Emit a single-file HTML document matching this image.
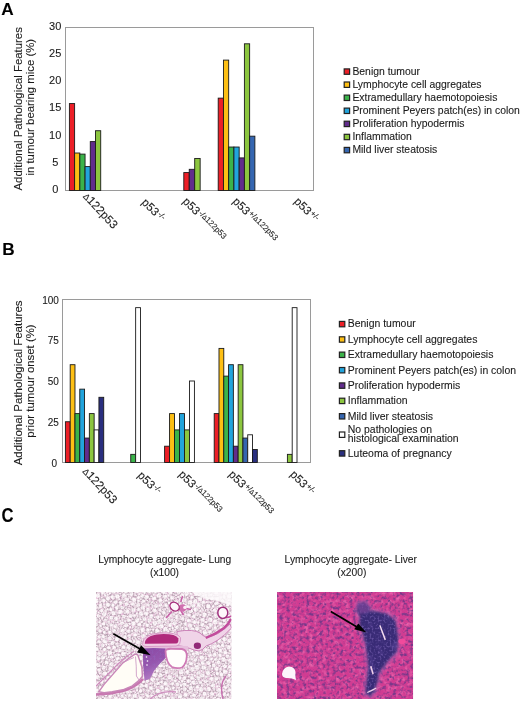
<!DOCTYPE html>
<html><head><meta charset="utf-8"><style>
html,body{margin:0;padding:0;background:#fff;width:520px;height:702px;overflow:hidden}
svg{display:block;will-change:transform}
svg text{stroke:#1a1a1a;stroke-width:0.1px}
</style></head><body>
<svg width="520" height="702" viewBox="0 0 520 702">
<defs><filter id="mesh" x="0" y="0" width="1" height="1" filterUnits="objectBoundingBox" color-interpolation-filters="sRGB">
<feTurbulence type="fractalNoise" baseFrequency="0.22" numOctaves="3" seed="21" result="n"/>
<feComponentTransfer in="n" result="m"><feFuncR type="table" tableValues="0 0 0 0.3 1 0.3 0 0 0 0.3 1 0.3 0 0 0"/></feComponentTransfer>
<feColorMatrix in="m" type="matrix" values="0 0 0 0 0.66  0 0 0 0 0.52  0 0 0 0 0.62  0.8 0 0 0 0"/>
</filter>
<filter id="mesh2" x="0" y="0" width="1" height="1" filterUnits="objectBoundingBox" color-interpolation-filters="sRGB">
<feTurbulence type="fractalNoise" baseFrequency="0.3" numOctaves="2" seed="33" result="n"/>
<feComponentTransfer in="n" result="m"><feFuncR type="table" tableValues="0 0 0.2 1 0.2 0 0 0.2 1 0.2 0 0"/></feComponentTransfer>
<feColorMatrix in="m" type="matrix" values="0 0 0 0 0.92  0 0 0 0 0.72  0 0 0 0 0.86  0.8 0 0 0 0"/>
</filter>
<filter id="lt2" x="0" y="0" width="1" height="1" filterUnits="objectBoundingBox" color-interpolation-filters="sRGB">
<feTurbulence type="fractalNoise" baseFrequency="0.35" numOctaves="2" seed="9" result="n"/>
<feColorMatrix in="n" type="matrix" values="0 0 0 0 0.9  0 0 0 0 0.7  0 0 0 0 0.84  3.0 0 0 0 -1.15"/>
<feComposite in2="SourceAlpha" operator="in"/>
</filter>
<filter id="lt" x="0" y="0" width="1" height="1" filterUnits="objectBoundingBox" color-interpolation-filters="sRGB">
<feTurbulence type="fractalNoise" baseFrequency="0.55" numOctaves="2" seed="4" result="n"/>
<feColorMatrix in="n" type="matrix" values="0 0 0 0 0.6  0 0 0 0 0.52  0 0 0 0 0.58  4.0 0 0 0 -1.75"/>
<feComposite in2="SourceAlpha" operator="in"/>
</filter>
<filter id="vt" x="0" y="0" width="1" height="1" filterUnits="objectBoundingBox" color-interpolation-filters="sRGB">
<feTurbulence type="fractalNoise" baseFrequency="0.5" numOctaves="2" seed="2" result="n"/>
<feColorMatrix in="n" type="matrix" values="0 0 0 0 0.3  0 0 0 0 0.18  0 0 0 0 0.48  3.4 0 0 0 -1.4"/>
<feComposite in2="SourceAlpha" operator="in"/>
</filter>
<filter id="pt" x="0" y="0" width="1" height="1" filterUnits="objectBoundingBox" color-interpolation-filters="sRGB">
<feTurbulence type="fractalNoise" baseFrequency="0.22" numOctaves="2" seed="5" result="n"/>
<feColorMatrix in="n" type="matrix" values="0 0 0 0 0.92  0 0 0 0 0.4  0 0 0 0 0.68  2.4 0 0 0 -1.1"/>
<feComposite in2="SourceAlpha" operator="in"/>
</filter>
<filter id="pd" x="0" y="0" width="1" height="1" filterUnits="objectBoundingBox" color-interpolation-filters="sRGB">
<feTurbulence type="fractalNoise" baseFrequency="0.3" numOctaves="2" seed="11" result="n"/>
<feColorMatrix in="n" type="matrix" values="0 0 0 0 0.48  0 0 0 0 0.22  0 0 0 0 0.54  3.4 0 0 0 -1.6"/>
<feComposite in2="SourceAlpha" operator="in"/>
</filter>
<filter id="ag" x="0" y="0" width="1" height="1" filterUnits="objectBoundingBox" color-interpolation-filters="sRGB">
<feTurbulence type="fractalNoise" baseFrequency="0.5" numOctaves="2" seed="13" result="n"/>
<feColorMatrix in="n" type="matrix" values="0 0 0 0 0.56  0 0 0 0 0.46  0 0 0 0 0.78  3.2 0 0 0 -1.5"/>
<feComposite in2="SourceAlpha" operator="in"/>
</filter>
<filter id="ag2" x="0" y="0" width="1" height="1" filterUnits="objectBoundingBox" color-interpolation-filters="sRGB">
<feTurbulence type="fractalNoise" baseFrequency="0.12" numOctaves="2" seed="17" result="n"/>
<feColorMatrix in="n" type="matrix" values="0 0 0 0 0.42  0 0 0 0 0.32  0 0 0 0 0.66  3.0 0 0 0 -1.6"/>
<feComposite in2="SourceAlpha" operator="in"/>
</filter>
<linearGradient id="aggrad" x1="0" y1="0" x2="0.3" y2="1"><stop offset="0" stop-color="#8a48a4"/><stop offset="0.55" stop-color="#9656ae"/><stop offset="1" stop-color="#b47cc4"/></linearGradient>
<clipPath id="cl"><rect x="96" y="592" width="135.5" height="107"/></clipPath>
<filter id="aggblur" x="-0.2" y="-0.2" width="1.4" height="1.4"><feMorphology in="SourceAlpha" operator="dilate" radius="2"/><feGaussianBlur stdDeviation="1.5"/><feColorMatrix type="matrix" values="0 0 0 0 0.40  0 0 0 0 0.18  0 0 0 0 0.50  0 0 0 0.6 0"/></filter>
<filter id="soft" x="-0.1" y="-0.1" width="1.2" height="1.2"><feGaussianBlur stdDeviation="0.9"/></filter>
<clipPath id="cv"><rect x="277" y="592" width="136.2" height="107"/></clipPath></defs>
<text x="1.2" y="14.8" font-size="17.2" font-weight="bold" font-family="Liberation Sans, sans-serif">A</text>
<text x="2.3" y="255.3" font-size="17.2" font-weight="bold" font-family="Liberation Sans, sans-serif">B</text>
<text transform="translate(1.4,521.9) scale(0.86,1)" font-size="19.4" font-weight="bold" font-family="Liberation Sans, sans-serif">C</text>
<rect x="65.5" y="27.5" width="248.0" height="163.0" fill="none" stroke="#9a9a9a" stroke-width="1"/>
<text x="55.2" y="188.8" font-size="11" text-anchor="middle" dominant-baseline="central" fill="#1a1a1a" font-family="Liberation Sans, sans-serif">0</text>
<text x="55.2" y="161.6" font-size="11" text-anchor="middle" dominant-baseline="central" fill="#1a1a1a" font-family="Liberation Sans, sans-serif">5</text>
<text x="55.2" y="134.5" font-size="11" text-anchor="middle" dominant-baseline="central" fill="#1a1a1a" font-family="Liberation Sans, sans-serif">10</text>
<text x="55.2" y="107.3" font-size="11" text-anchor="middle" dominant-baseline="central" fill="#1a1a1a" font-family="Liberation Sans, sans-serif">15</text>
<text x="55.2" y="80.1" font-size="11" text-anchor="middle" dominant-baseline="central" fill="#1a1a1a" font-family="Liberation Sans, sans-serif">20</text>
<text x="55.2" y="53.0" font-size="11" text-anchor="middle" dominant-baseline="central" fill="#1a1a1a" font-family="Liberation Sans, sans-serif">25</text>
<text x="55.2" y="25.8" font-size="11" text-anchor="middle" dominant-baseline="central" fill="#1a1a1a" font-family="Liberation Sans, sans-serif">30</text>
<rect x="69.40" y="103.57" width="5.22" height="86.93" fill="#ec1f27" stroke="#1a1a1a" stroke-width="0.9"/>
<rect x="74.62" y="153.01" width="5.22" height="37.49" fill="#fdbf14" stroke="#1a1a1a" stroke-width="0.9"/>
<rect x="79.84" y="154.10" width="5.22" height="36.40" fill="#3bb34a" stroke="#1a1a1a" stroke-width="0.9"/>
<rect x="85.06" y="166.59" width="5.22" height="23.91" fill="#22a4dc" stroke="#1a1a1a" stroke-width="0.9"/>
<rect x="90.28" y="141.60" width="5.22" height="48.90" fill="#612c8c" stroke="#1a1a1a" stroke-width="0.9"/>
<rect x="95.50" y="130.73" width="5.22" height="59.77" fill="#8cc63f" stroke="#1a1a1a" stroke-width="0.9"/>
<rect x="183.80" y="172.57" width="5.45" height="17.93" fill="#ec1f27" stroke="#1a1a1a" stroke-width="0.9"/>
<rect x="189.25" y="169.31" width="5.45" height="21.19" fill="#612c8c" stroke="#1a1a1a" stroke-width="0.9"/>
<rect x="194.70" y="158.44" width="5.45" height="32.06" fill="#8cc63f" stroke="#1a1a1a" stroke-width="0.9"/>
<rect x="218.20" y="98.13" width="5.24" height="92.37" fill="#ec1f27" stroke="#1a1a1a" stroke-width="0.9"/>
<rect x="223.44" y="60.10" width="5.24" height="130.40" fill="#fdbf14" stroke="#1a1a1a" stroke-width="0.9"/>
<rect x="228.68" y="147.03" width="5.24" height="43.47" fill="#3bb34a" stroke="#1a1a1a" stroke-width="0.9"/>
<rect x="233.92" y="147.03" width="5.24" height="43.47" fill="#22a4dc" stroke="#1a1a1a" stroke-width="0.9"/>
<rect x="239.16" y="157.90" width="5.24" height="32.60" fill="#612c8c" stroke="#1a1a1a" stroke-width="0.9"/>
<rect x="244.40" y="43.80" width="5.24" height="146.70" fill="#8cc63f" stroke="#1a1a1a" stroke-width="0.9"/>
<rect x="249.64" y="136.17" width="5.24" height="54.33" fill="#3566b0" stroke="#1a1a1a" stroke-width="0.9"/>
<text transform="translate(22.3,108.8) rotate(-90)" font-size="11.4" text-anchor="middle" fill="#1a1a1a" font-family="Liberation Sans, sans-serif">Additional Pathological Features</text>
<text transform="translate(33.5,107.2) rotate(-90)" font-size="11.4" text-anchor="middle" fill="#1a1a1a" font-family="Liberation Sans, sans-serif">in tumour bearing mice (%)</text>
<rect x="62.5" y="299.5" width="248.0" height="163.0" fill="none" stroke="#9a9a9a" stroke-width="1"/>
<text x="57.1" y="463.1" font-size="10" text-anchor="end" dominant-baseline="central" fill="#1a1a1a" font-family="Liberation Sans, sans-serif">0</text>
<text x="58.9" y="422.4" font-size="10" text-anchor="end" dominant-baseline="central" fill="#1a1a1a" font-family="Liberation Sans, sans-serif">25</text>
<text x="58.9" y="381.6" font-size="10" text-anchor="end" dominant-baseline="central" fill="#1a1a1a" font-family="Liberation Sans, sans-serif">50</text>
<text x="58.9" y="340.9" font-size="10" text-anchor="end" dominant-baseline="central" fill="#1a1a1a" font-family="Liberation Sans, sans-serif">75</text>
<text x="58.9" y="300.1" font-size="10" text-anchor="end" dominant-baseline="central" fill="#1a1a1a" font-family="Liberation Sans, sans-serif">100</text>
<rect x="65.40" y="421.75" width="4.79" height="40.75" fill="#ec1f27" stroke="#1a1a1a" stroke-width="0.9"/>
<rect x="70.19" y="364.70" width="4.79" height="97.80" fill="#fdbf14" stroke="#1a1a1a" stroke-width="0.9"/>
<rect x="74.98" y="413.60" width="4.79" height="48.90" fill="#3bb34a" stroke="#1a1a1a" stroke-width="0.9"/>
<rect x="79.77" y="389.15" width="4.79" height="73.35" fill="#22a4dc" stroke="#1a1a1a" stroke-width="0.9"/>
<rect x="84.56" y="438.05" width="4.79" height="24.45" fill="#612c8c" stroke="#1a1a1a" stroke-width="0.9"/>
<rect x="89.35" y="413.60" width="4.79" height="48.90" fill="#8cc63f" stroke="#1a1a1a" stroke-width="0.9"/>
<rect x="94.14" y="429.90" width="4.79" height="32.60" fill="#ffffff" stroke="#1a1a1a" stroke-width="0.9"/>
<rect x="98.93" y="397.30" width="4.79" height="65.20" fill="#2a2f7f" stroke="#1a1a1a" stroke-width="0.9"/>
<rect x="130.75" y="454.35" width="4.90" height="8.15" fill="#3bb34a" stroke="#1a1a1a" stroke-width="0.9"/>
<rect x="135.65" y="307.65" width="4.90" height="154.85" fill="#ffffff" stroke="#1a1a1a" stroke-width="0.9"/>
<rect x="164.60" y="446.20" width="4.97" height="16.30" fill="#ec1f27" stroke="#1a1a1a" stroke-width="0.9"/>
<rect x="169.57" y="413.60" width="4.97" height="48.90" fill="#fdbf14" stroke="#1a1a1a" stroke-width="0.9"/>
<rect x="174.54" y="429.90" width="4.97" height="32.60" fill="#3bb34a" stroke="#1a1a1a" stroke-width="0.9"/>
<rect x="179.51" y="413.60" width="4.97" height="48.90" fill="#22a4dc" stroke="#1a1a1a" stroke-width="0.9"/>
<rect x="184.48" y="429.90" width="4.97" height="32.60" fill="#8cc63f" stroke="#1a1a1a" stroke-width="0.9"/>
<rect x="189.45" y="381.00" width="4.97" height="81.50" fill="#ffffff" stroke="#1a1a1a" stroke-width="0.9"/>
<rect x="214.20" y="413.60" width="4.79" height="48.90" fill="#ec1f27" stroke="#1a1a1a" stroke-width="0.9"/>
<rect x="218.99" y="348.40" width="4.79" height="114.10" fill="#fdbf14" stroke="#1a1a1a" stroke-width="0.9"/>
<rect x="223.78" y="376.11" width="4.79" height="86.39" fill="#3bb34a" stroke="#1a1a1a" stroke-width="0.9"/>
<rect x="228.57" y="364.70" width="4.79" height="97.80" fill="#22a4dc" stroke="#1a1a1a" stroke-width="0.9"/>
<rect x="233.36" y="446.20" width="4.79" height="16.30" fill="#612c8c" stroke="#1a1a1a" stroke-width="0.9"/>
<rect x="238.15" y="364.70" width="4.79" height="97.80" fill="#8cc63f" stroke="#1a1a1a" stroke-width="0.9"/>
<rect x="242.94" y="438.05" width="4.79" height="24.45" fill="#3566b0" stroke="#1a1a1a" stroke-width="0.9"/>
<rect x="247.73" y="434.79" width="4.79" height="27.71" fill="#ffffff" stroke="#1a1a1a" stroke-width="0.9"/>
<rect x="252.52" y="449.46" width="4.79" height="13.04" fill="#2a2f7f" stroke="#1a1a1a" stroke-width="0.9"/>
<rect x="287.40" y="454.35" width="4.80" height="8.15" fill="#8cc63f" stroke="#1a1a1a" stroke-width="0.9"/>
<rect x="292.20" y="307.65" width="4.80" height="154.85" fill="#ffffff" stroke="#1a1a1a" stroke-width="0.9"/>
<text transform="translate(22.3,382.9) rotate(-90)" font-size="11.5" text-anchor="middle" fill="#1a1a1a" font-family="Liberation Sans, sans-serif">Additional Pathological Features</text>
<text transform="translate(33.5,381.0) rotate(-90)" font-size="11.4" text-anchor="middle" fill="#1a1a1a" font-family="Liberation Sans, sans-serif">prior tumour onset (%)</text>
<text transform="translate(82.5,196.8) rotate(47) scale(1,1)" font-size="11.6" fill="#1a1a1a" font-family="Liberation Sans, sans-serif"><tspan font-size="8.70">Δ</tspan>122p53</text>
<text transform="translate(141,203) rotate(45.5) scale(1,1)" font-size="11.4" fill="#1a1a1a" font-family="Liberation Sans, sans-serif">p53<tspan font-size="8" dx="0.8" dy="-3.3" letter-spacing="0">-/-</tspan></text>
<text transform="translate(182,202) rotate(45.5) scale(1,1)" font-size="11.4" fill="#1a1a1a" font-family="Liberation Sans, sans-serif">p53<tspan font-size="8" dx="0.8" dy="-3.3" letter-spacing="0">-/<tspan font-size="6.40">Δ</tspan>122p53</tspan></text>
<text transform="translate(232,202) rotate(45.5) scale(1,1)" font-size="11.4" fill="#1a1a1a" font-family="Liberation Sans, sans-serif">p53<tspan font-size="8" dx="0.8" dy="-3.3" letter-spacing="0">+/<tspan font-size="6.40">Δ</tspan>122p53</tspan></text>
<text transform="translate(293.5,202) rotate(45.5) scale(1,1)" font-size="11.4" fill="#1a1a1a" font-family="Liberation Sans, sans-serif">p53<tspan font-size="8" dx="0.8" dy="-3.3" letter-spacing="0">+/-</tspan></text>
<text transform="translate(82.0,471.8) rotate(47) scale(1,1)" font-size="11.6" fill="#1a1a1a" font-family="Liberation Sans, sans-serif"><tspan font-size="8.70">Δ</tspan>122p53</text>
<text transform="translate(137,476) rotate(45.5) scale(1,1)" font-size="11.4" fill="#1a1a1a" font-family="Liberation Sans, sans-serif">p53<tspan font-size="8" dx="0.8" dy="-3.3" letter-spacing="0">-/-</tspan></text>
<text transform="translate(178,475) rotate(45.5) scale(1,1)" font-size="11.4" fill="#1a1a1a" font-family="Liberation Sans, sans-serif">p53<tspan font-size="8" dx="0.8" dy="-3.3" letter-spacing="0">-/<tspan font-size="6.40">Δ</tspan>122p53</tspan></text>
<text transform="translate(228,475) rotate(45.5) scale(1,1)" font-size="11.4" fill="#1a1a1a" font-family="Liberation Sans, sans-serif">p53<tspan font-size="8" dx="0.8" dy="-3.3" letter-spacing="0">+/<tspan font-size="6.40">Δ</tspan>122p53</tspan></text>
<text transform="translate(289.5,475) rotate(45.5) scale(1,1)" font-size="11.4" fill="#1a1a1a" font-family="Liberation Sans, sans-serif">p53<tspan font-size="8" dx="0.8" dy="-3.3" letter-spacing="0">+/-</tspan></text>
<rect x="344.2" y="68.9" width="5.4" height="5.4" fill="#ec1f27" stroke="#222" stroke-width="1.2"/>
<text x="352.4" y="74.9" font-size="10.4" fill="#1a1a1a" font-family="Liberation Sans, sans-serif">Benign tumour</text>
<rect x="344.2" y="82.0" width="5.4" height="5.4" fill="#fdbf14" stroke="#222" stroke-width="1.2"/>
<text x="352.4" y="88.0" font-size="10.4" fill="#1a1a1a" font-family="Liberation Sans, sans-serif">Lymphocyte cell aggregates</text>
<rect x="344.2" y="95.1" width="5.4" height="5.4" fill="#3bb34a" stroke="#222" stroke-width="1.2"/>
<text x="352.4" y="101.1" font-size="10.4" fill="#1a1a1a" font-family="Liberation Sans, sans-serif">Extramedullary haemotopoiesis</text>
<rect x="344.2" y="108.1" width="5.4" height="5.4" fill="#22a4dc" stroke="#222" stroke-width="1.2"/>
<text x="352.4" y="114.1" font-size="10.4" fill="#1a1a1a" font-family="Liberation Sans, sans-serif">Prominent Peyers patch(es) in colon</text>
<rect x="344.2" y="121.2" width="5.4" height="5.4" fill="#612c8c" stroke="#222" stroke-width="1.2"/>
<text x="352.4" y="127.2" font-size="10.4" fill="#1a1a1a" font-family="Liberation Sans, sans-serif">Proliferation hypodermis</text>
<rect x="344.2" y="134.3" width="5.4" height="5.4" fill="#8cc63f" stroke="#222" stroke-width="1.2"/>
<text x="352.4" y="140.3" font-size="10.4" fill="#1a1a1a" font-family="Liberation Sans, sans-serif">Inflammation</text>
<rect x="344.2" y="147.4" width="5.4" height="5.4" fill="#3566b0" stroke="#222" stroke-width="1.2"/>
<text x="352.4" y="153.4" font-size="10.4" fill="#1a1a1a" font-family="Liberation Sans, sans-serif">Mild liver steatosis</text>
<rect x="339.4" y="321.4" width="5.4" height="5.4" fill="#ec1f27" stroke="#222" stroke-width="1.2"/>
<text x="347.8" y="327.4" font-size="10.45" fill="#1a1a1a" font-family="Liberation Sans, sans-serif">Benign tumour</text>
<rect x="339.4" y="336.8" width="5.4" height="5.4" fill="#fdbf14" stroke="#222" stroke-width="1.2"/>
<text x="347.8" y="342.8" font-size="10.45" fill="#1a1a1a" font-family="Liberation Sans, sans-serif">Lymphocyte cell aggregates</text>
<rect x="339.4" y="352.1" width="5.4" height="5.4" fill="#3bb34a" stroke="#222" stroke-width="1.2"/>
<text x="347.8" y="358.1" font-size="10.45" fill="#1a1a1a" font-family="Liberation Sans, sans-serif">Extramedullary haemotopoiesis</text>
<rect x="339.4" y="367.5" width="5.4" height="5.4" fill="#22a4dc" stroke="#222" stroke-width="1.2"/>
<text x="347.8" y="373.5" font-size="10.45" fill="#1a1a1a" font-family="Liberation Sans, sans-serif">Prominent Peyers patch(es) in colon</text>
<rect x="339.4" y="382.9" width="5.4" height="5.4" fill="#612c8c" stroke="#222" stroke-width="1.2"/>
<text x="347.8" y="388.9" font-size="10.45" fill="#1a1a1a" font-family="Liberation Sans, sans-serif">Proliferation hypodermis</text>
<rect x="339.4" y="398.2" width="5.4" height="5.4" fill="#8cc63f" stroke="#222" stroke-width="1.2"/>
<text x="347.8" y="404.2" font-size="10.45" fill="#1a1a1a" font-family="Liberation Sans, sans-serif">Inflammation</text>
<rect x="339.4" y="413.6" width="5.4" height="5.4" fill="#3566b0" stroke="#222" stroke-width="1.2"/>
<text x="347.8" y="419.6" font-size="10.45" fill="#1a1a1a" font-family="Liberation Sans, sans-serif">Mild liver steatosis</text>
<rect x="339.4" y="432.0" width="5.4" height="5.4" fill="#ffffff" stroke="#222" stroke-width="1.2"/>
<text x="347.8" y="433.0" font-size="10.45" fill="#1a1a1a" font-family="Liberation Sans, sans-serif">No pathologies on</text>
<text x="347.8" y="441.9" font-size="10.45" fill="#1a1a1a" font-family="Liberation Sans, sans-serif">histological examination</text>
<rect x="339.4" y="450.7" width="5.4" height="5.4" fill="#2a2f7f" stroke="#222" stroke-width="1.2"/>
<text x="347.8" y="456.5" font-size="10.45" fill="#1a1a1a" font-family="Liberation Sans, sans-serif">Luteoma of pregnancy</text>
<text x="164.8" y="563" font-size="10.25" text-anchor="middle" fill="#222" font-family="Liberation Sans, sans-serif">Lymphocyte aggregate- Lung</text>
<text x="164.5" y="575.5" font-size="10.25" text-anchor="middle" fill="#222" font-family="Liberation Sans, sans-serif">(x100)</text>
<text x="350.8" y="563.2" font-size="10.25" text-anchor="middle" fill="#222" font-family="Liberation Sans, sans-serif">Lymphocyte aggregate- Liver</text>
<text x="351.8" y="575.7" font-size="10.25" text-anchor="middle" fill="#222" font-family="Liberation Sans, sans-serif">(x200)</text>
<g clip-path="url(#cl)">
<rect x="96" y="592" width="135.5" height="107" fill="#ead6e2"/>
<rect x="96" y="592" width="135.5" height="107" fill="#fff" filter="url(#mesh2)"/>
<rect x="96" y="592" width="135.5" height="107" fill="#fff" filter="url(#lt)" opacity="0.55"/>
<g fill="#fefafc" opacity="0.94"><circle cx="181.0" cy="671.9" r="2.2"/><circle cx="225.1" cy="671.6" r="2.2"/><circle cx="99.0" cy="641.8" r="1.8"/><circle cx="184.6" cy="689.2" r="1.8"/><circle cx="146.3" cy="685.7" r="2.0"/><circle cx="170.0" cy="653.6" r="1.8"/><circle cx="195.9" cy="635.5" r="1.8"/><circle cx="221.5" cy="674.5" r="1.8"/><circle cx="200.1" cy="598.8" r="2.2"/><circle cx="180.2" cy="604.8" r="1.8"/><circle cx="229.2" cy="591.6" r="1.8"/><circle cx="227.5" cy="609.1" r="1.8"/><circle cx="134.9" cy="695.8" r="2.2"/><circle cx="215.9" cy="659.2" r="1.8"/><circle cx="224.9" cy="666.3" r="2.0"/><circle cx="136.2" cy="630.4" r="1.8"/><circle cx="224.1" cy="619.8" r="2.0"/><circle cx="136.6" cy="656.7" r="1.8"/><circle cx="177.2" cy="668.1" r="1.8"/><circle cx="137.8" cy="680.2" r="2.0"/><circle cx="191.1" cy="611.1" r="2.0"/><circle cx="192.2" cy="597.2" r="1.8"/><circle cx="226.0" cy="630.0" r="2.0"/><circle cx="97.5" cy="676.9" r="2.0"/><circle cx="101.4" cy="610.7" r="1.8"/><circle cx="111.4" cy="617.8" r="2.0"/><circle cx="142.5" cy="629.7" r="2.2"/><circle cx="129.6" cy="641.5" r="2.2"/><circle cx="198.3" cy="677.9" r="2.0"/><circle cx="100.1" cy="694.1" r="1.8"/><circle cx="123.8" cy="646.9" r="2.0"/><circle cx="221.7" cy="628.1" r="2.2"/><circle cx="170.2" cy="625.1" r="2.0"/><circle cx="115.5" cy="666.1" r="2.0"/><circle cx="117.3" cy="596.3" r="2.2"/><circle cx="168.6" cy="635.2" r="1.8"/><circle cx="197.2" cy="628.5" r="2.0"/><circle cx="157.9" cy="637.0" r="1.8"/><circle cx="230.1" cy="660.6" r="2.0"/><circle cx="141.1" cy="613.6" r="2.2"/><circle cx="172.8" cy="605.5" r="2.0"/><circle cx="109.7" cy="638.4" r="1.8"/><circle cx="103.1" cy="636.9" r="1.8"/><circle cx="157.5" cy="699.9" r="1.8"/><circle cx="229.7" cy="640.4" r="2.0"/><circle cx="190.1" cy="625.6" r="2.0"/><circle cx="135.2" cy="635.0" r="1.8"/><circle cx="110.5" cy="680.6" r="2.2"/><circle cx="214.8" cy="610.6" r="2.0"/><circle cx="132.6" cy="676.2" r="2.2"/><circle cx="144.9" cy="676.7" r="2.0"/><circle cx="190.9" cy="663.4" r="2.0"/><circle cx="145.2" cy="667.8" r="2.0"/><circle cx="210.3" cy="619.9" r="2.2"/><circle cx="193.8" cy="695.3" r="2.0"/><circle cx="184.7" cy="654.3" r="1.8"/><circle cx="160.5" cy="675.3" r="2.0"/><circle cx="187.7" cy="641.5" r="2.2"/><circle cx="184.3" cy="677.9" r="2.0"/><circle cx="157.1" cy="630.7" r="2.0"/><circle cx="166.5" cy="648.7" r="1.8"/><circle cx="122.4" cy="630.5" r="2.0"/><circle cx="134.0" cy="599.6" r="2.2"/><circle cx="195.8" cy="609.7" r="2.2"/><circle cx="166.3" cy="693.1" r="2.0"/><circle cx="132.4" cy="699.6" r="1.8"/><circle cx="117.1" cy="639.1" r="2.2"/><circle cx="119.9" cy="673.7" r="1.8"/><circle cx="182.1" cy="595.6" r="2.0"/><circle cx="110.3" cy="696.5" r="2.0"/><circle cx="143.5" cy="663.2" r="1.8"/><circle cx="176.4" cy="616.9" r="2.0"/><circle cx="95.1" cy="635.2" r="2.0"/><circle cx="213.1" cy="685.4" r="2.2"/><circle cx="209.7" cy="631.8" r="1.8"/><circle cx="152.8" cy="679.6" r="2.2"/><circle cx="169.3" cy="642.0" r="1.8"/><circle cx="177.2" cy="652.5" r="1.8"/><circle cx="208.3" cy="663.1" r="2.0"/><circle cx="109.9" cy="652.7" r="2.2"/><circle cx="146.9" cy="638.1" r="1.8"/><circle cx="163.1" cy="643.3" r="2.2"/><circle cx="147.4" cy="695.8" r="1.8"/><circle cx="163.5" cy="636.3" r="2.0"/><circle cx="225.4" cy="624.5" r="2.0"/><circle cx="180.8" cy="639.3" r="2.0"/><circle cx="100.5" cy="605.9" r="2.0"/><circle cx="96.8" cy="649.0" r="2.0"/><circle cx="128.9" cy="620.2" r="1.8"/><circle cx="194.6" cy="622.1" r="2.0"/><circle cx="195.9" cy="593.9" r="2.0"/><circle cx="113.3" cy="591.3" r="2.2"/><circle cx="157.9" cy="690.9" r="2.2"/><circle cx="170.3" cy="592.6" r="2.0"/><circle cx="184.5" cy="684.6" r="2.0"/><circle cx="160.6" cy="665.4" r="2.2"/><circle cx="122.1" cy="623.3" r="1.8"/><circle cx="136.9" cy="591.4" r="2.0"/><circle cx="175.3" cy="661.7" r="2.0"/><circle cx="220.7" cy="606.6" r="2.0"/><circle cx="190.9" cy="687.9" r="2.0"/><circle cx="207.0" cy="598.5" r="1.8"/><circle cx="186.6" cy="593.8" r="2.2"/><circle cx="154.2" cy="598.5" r="2.0"/><circle cx="125.3" cy="661.4" r="1.8"/><circle cx="193.3" cy="605.7" r="2.0"/><circle cx="192.4" cy="638.7" r="1.8"/><circle cx="104.3" cy="614.2" r="2.2"/><circle cx="109.9" cy="632.3" r="1.8"/><circle cx="133.6" cy="653.3" r="1.8"/><circle cx="197.4" cy="686.8" r="1.8"/><circle cx="96.4" cy="601.0" r="2.2"/><circle cx="177.8" cy="644.4" r="2.2"/><circle cx="146.6" cy="597.1" r="2.2"/><circle cx="170.9" cy="615.0" r="1.8"/><circle cx="166.3" cy="605.6" r="1.8"/><circle cx="214.2" cy="640.4" r="2.0"/><circle cx="119.7" cy="668.7" r="2.2"/><circle cx="142.1" cy="653.5" r="1.8"/><circle cx="107.6" cy="604.6" r="2.2"/><circle cx="161.3" cy="626.2" r="2.2"/><circle cx="99.1" cy="670.0" r="1.8"/><circle cx="212.1" cy="694.0" r="2.0"/><circle cx="189.0" cy="615.3" r="1.8"/><circle cx="106.6" cy="690.3" r="2.0"/><circle cx="208.2" cy="606.2" r="2.2"/><circle cx="141.0" cy="657.9" r="2.0"/><circle cx="204.9" cy="632.2" r="2.2"/><circle cx="100.0" cy="699.2" r="1.8"/><circle cx="100.4" cy="687.9" r="2.0"/><circle cx="186.3" cy="629.0" r="2.0"/><circle cx="104.8" cy="685.7" r="2.0"/><circle cx="116.0" cy="618.7" r="2.0"/><circle cx="207.9" cy="672.8" r="2.2"/><circle cx="158.0" cy="683.5" r="1.8"/><circle cx="111.3" cy="663.9" r="2.0"/><circle cx="157.6" cy="617.2" r="1.8"/><circle cx="126.8" cy="599.5" r="2.0"/><circle cx="138.0" cy="642.0" r="2.0"/><circle cx="123.8" cy="595.8" r="2.2"/><circle cx="143.3" cy="601.2" r="1.8"/><circle cx="127.7" cy="678.5" r="1.8"/><circle cx="224.1" cy="596.9" r="1.8"/><circle cx="183.9" cy="645.2" r="1.8"/><circle cx="101.6" cy="681.8" r="2.0"/><circle cx="127.3" cy="692.0" r="1.8"/><circle cx="177.6" cy="684.4" r="1.8"/><circle cx="162.1" cy="653.3" r="2.0"/><circle cx="218.0" cy="700.0" r="2.2"/><circle cx="111.0" cy="625.0" r="1.8"/><circle cx="202.6" cy="619.7" r="2.0"/><circle cx="138.2" cy="605.1" r="1.8"/><circle cx="103.5" cy="667.4" r="1.8"/><circle cx="192.1" cy="677.8" r="2.0"/><circle cx="217.2" cy="598.8" r="2.0"/><circle cx="218.7" cy="662.3" r="1.8"/><circle cx="174.3" cy="639.2" r="2.2"/><circle cx="185.5" cy="695.1" r="2.2"/><circle cx="139.3" cy="624.4" r="1.8"/><circle cx="131.2" cy="664.7" r="2.0"/><circle cx="228.8" cy="681.1" r="2.0"/><circle cx="117.5" cy="658.5" r="1.8"/><circle cx="195.3" cy="601.4" r="2.2"/><circle cx="99.5" cy="653.9" r="2.0"/><circle cx="192.3" cy="629.6" r="2.0"/><circle cx="136.8" cy="647.2" r="1.8"/><circle cx="209.8" cy="644.4" r="1.8"/><circle cx="190.0" cy="602.3" r="2.2"/><circle cx="176.0" cy="611.1" r="2.0"/><circle cx="98.1" cy="664.9" r="2.2"/><circle cx="170.3" cy="666.3" r="2.0"/><circle cx="171.9" cy="597.7" r="1.8"/><circle cx="201.8" cy="657.6" r="2.2"/><circle cx="152.0" cy="696.6" r="1.8"/><circle cx="132.9" cy="669.1" r="1.8"/><circle cx="166.3" cy="688.7" r="1.8"/><circle cx="149.3" cy="591.3" r="2.0"/><circle cx="219.1" cy="690.2" r="2.2"/><circle cx="137.2" cy="620.2" r="2.2"/><circle cx="105.8" cy="694.6" r="1.8"/><circle cx="151.2" cy="616.2" r="2.0"/><circle cx="120.4" cy="611.7" r="2.2"/><circle cx="114.0" cy="647.6" r="1.8"/><circle cx="179.9" cy="678.0" r="1.8"/><circle cx="105.0" cy="673.8" r="2.2"/><circle cx="232.9" cy="672.9" r="1.8"/><circle cx="174.4" cy="623.3" r="2.0"/><circle cx="154.7" cy="610.6" r="2.0"/><circle cx="121.7" cy="678.6" r="1.8"/><circle cx="160.1" cy="600.3" r="2.0"/><circle cx="165.1" cy="596.8" r="2.0"/><circle cx="201.4" cy="645.5" r="2.2"/><circle cx="153.2" cy="669.8" r="2.0"/><circle cx="124.9" cy="636.9" r="2.0"/><circle cx="114.2" cy="630.6" r="1.8"/><circle cx="227.6" cy="656.3" r="1.8"/><circle cx="220.1" cy="650.7" r="2.0"/><circle cx="228.3" cy="617.3" r="2.2"/><circle cx="201.4" cy="636.7" r="2.2"/><circle cx="193.8" cy="616.7" r="2.0"/><circle cx="102.7" cy="645.6" r="1.8"/><circle cx="224.3" cy="694.5" r="2.0"/><circle cx="143.4" cy="644.9" r="2.2"/><circle cx="103.3" cy="600.6" r="2.0"/><circle cx="217.2" cy="631.8" r="2.0"/><circle cx="181.3" cy="633.4" r="2.2"/><circle cx="203.9" cy="667.5" r="2.2"/><circle cx="192.4" cy="669.4" r="2.2"/><circle cx="107.8" cy="598.3" r="2.0"/><circle cx="188.8" cy="620.8" r="2.0"/><circle cx="136.3" cy="686.8" r="2.0"/><circle cx="184.8" cy="610.1" r="1.8"/><circle cx="156.7" cy="653.5" r="1.8"/><circle cx="131.5" cy="659.6" r="2.2"/><circle cx="215.2" cy="622.0" r="2.2"/><circle cx="148.0" cy="660.4" r="2.2"/><circle cx="103.7" cy="623.9" r="1.8"/><circle cx="218.7" cy="646.2" r="1.8"/><circle cx="184.9" cy="665.3" r="2.0"/><circle cx="147.5" cy="609.5" r="1.8"/><circle cx="182.7" cy="618.9" r="1.8"/><circle cx="113.5" cy="613.1" r="2.2"/><circle cx="232.7" cy="605.5" r="1.8"/><circle cx="191.3" cy="650.1" r="2.2"/><circle cx="111.9" cy="674.3" r="2.0"/><circle cx="186.9" cy="634.5" r="1.8"/><circle cx="137.3" cy="671.1" r="2.0"/><circle cx="102.8" cy="592.6" r="1.8"/><circle cx="231.6" cy="612.9" r="1.8"/><circle cx="149.0" cy="675.1" r="1.8"/><circle cx="113.2" cy="689.1" r="1.8"/><circle cx="213.7" cy="665.4" r="1.8"/><circle cx="208.7" cy="689.1" r="2.2"/><circle cx="216.8" cy="668.8" r="2.0"/><circle cx="149.3" cy="651.9" r="1.8"/><circle cx="104.8" cy="649.5" r="1.8"/><circle cx="106.5" cy="662.4" r="2.0"/><circle cx="137.7" cy="664.9" r="1.8"/><circle cx="228.9" cy="647.3" r="2.0"/><circle cx="209.7" cy="655.3" r="1.8"/><circle cx="107.1" cy="628.3" r="1.8"/><circle cx="154.8" cy="623.3" r="2.2"/><circle cx="172.8" cy="634.1" r="2.0"/><circle cx="205.4" cy="650.1" r="2.0"/><circle cx="133.3" cy="609.9" r="2.0"/><circle cx="117.4" cy="692.8" r="1.8"/><circle cx="232.0" cy="627.0" r="2.0"/><circle cx="175.7" cy="691.5" r="2.0"/><circle cx="202.2" cy="624.4" r="2.0"/><circle cx="95.5" cy="607.1" r="2.2"/><circle cx="125.0" cy="682.7" r="1.8"/><circle cx="178.6" cy="658.0" r="2.2"/><circle cx="119.9" cy="650.5" r="1.8"/><circle cx="151.0" cy="688.2" r="2.0"/><circle cx="224.7" cy="639.3" r="2.2"/><circle cx="169.5" cy="677.1" r="2.2"/><circle cx="205.8" cy="681.3" r="1.8"/><circle cx="165.7" cy="683.4" r="2.2"/><circle cx="133.3" cy="623.5" r="2.2"/><circle cx="203.4" cy="602.5" r="2.0"/><circle cx="154.5" cy="662.0" r="2.0"/><circle cx="95.4" cy="619.3" r="2.2"/><circle cx="95.9" cy="624.5" r="2.0"/><circle cx="115.6" cy="698.6" r="2.2"/><circle cx="153.9" cy="647.7" r="2.0"/><circle cx="108.6" cy="647.7" r="1.8"/><circle cx="98.3" cy="658.3" r="2.0"/><circle cx="130.7" cy="615.7" r="2.0"/><circle cx="179.9" cy="696.4" r="2.2"/><circle cx="123.8" cy="616.6" r="1.8"/><circle cx="161.6" cy="687.6" r="2.0"/><circle cx="104.9" cy="641.4" r="2.2"/><circle cx="222.6" cy="682.2" r="2.2"/><circle cx="128.7" cy="647.2" r="2.2"/><circle cx="166.6" cy="672.0" r="2.0"/><circle cx="142.2" cy="595.9" r="1.8"/><circle cx="147.2" cy="625.3" r="1.8"/><circle cx="143.1" cy="636.0" r="2.0"/><circle cx="210.8" cy="624.9" r="2.0"/><circle cx="118.5" cy="687.4" r="1.8"/><circle cx="125.3" cy="698.8" r="1.8"/><circle cx="227.9" cy="604.1" r="2.2"/><circle cx="128.5" cy="631.2" r="1.8"/><circle cx="219.9" cy="655.6" r="1.8"/><circle cx="229.7" cy="666.8" r="1.8"/><circle cx="229.3" cy="690.0" r="1.8"/><circle cx="233.0" cy="699.6" r="1.8"/><circle cx="122.1" cy="696.2" r="1.8"/><circle cx="163.6" cy="612.5" r="2.0"/><circle cx="155.9" cy="592.0" r="1.8"/><circle cx="202.1" cy="698.0" r="1.8"/><circle cx="232.7" cy="656.0" r="2.2"/><circle cx="204.4" cy="614.7" r="2.2"/><circle cx="222.7" cy="612.0" r="2.2"/><circle cx="222.8" cy="645.4" r="1.8"/><circle cx="154.1" cy="641.5" r="1.8"/><circle cx="216.2" cy="592.4" r="2.0"/><circle cx="141.7" cy="685.8" r="2.0"/><circle cx="225.2" cy="687.3" r="1.8"/><circle cx="198.3" cy="672.9" r="1.8"/><circle cx="127.3" cy="611.6" r="2.0"/><circle cx="116.0" cy="680.2" r="2.2"/><circle cx="178.5" cy="592.1" r="2.0"/><circle cx="219.6" cy="695.2" r="2.0"/><circle cx="217.4" cy="673.6" r="1.8"/><circle cx="144.3" cy="619.1" r="2.0"/><circle cx="180.8" cy="612.5" r="2.0"/><circle cx="204.6" cy="693.7" r="2.0"/><circle cx="160.4" cy="660.2" r="2.2"/><circle cx="211.5" cy="678.9" r="2.0"/><circle cx="122.0" cy="607.5" r="1.8"/><circle cx="210.1" cy="637.7" r="2.2"/><circle cx="131.4" cy="594.1" r="2.0"/><circle cx="168.3" cy="698.4" r="1.8"/><circle cx="99.9" cy="630.8" r="1.8"/><circle cx="196.6" cy="639.6" r="1.8"/><circle cx="126.5" cy="604.2" r="1.8"/><circle cx="215.9" cy="615.8" r="2.2"/><circle cx="115.4" cy="602.1" r="1.8"/><circle cx="98.0" cy="595.7" r="2.2"/><circle cx="156.3" cy="606.1" r="2.0"/><circle cx="163.4" cy="592.2" r="1.8"/><circle cx="121.6" cy="641.9" r="2.0"/><circle cx="176.3" cy="602.1" r="1.8"/><circle cx="123.6" cy="687.2" r="1.8"/><circle cx="160.4" cy="695.5" r="2.0"/><circle cx="216.4" cy="603.3" r="2.0"/><circle cx="216.2" cy="678.4" r="2.0"/><circle cx="130.4" cy="687.9" r="2.2"/><circle cx="129.0" cy="654.6" r="2.0"/><circle cx="120.8" cy="603.1" r="1.8"/><circle cx="165.5" cy="618.4" r="2.0"/><circle cx="197.4" cy="652.9" r="2.2"/><circle cx="115.6" cy="626.1" r="2.0"/><circle cx="214.2" cy="647.0" r="2.2"/><circle cx="173.7" cy="655.6" r="1.8"/><circle cx="205.7" cy="591.4" r="1.8"/><circle cx="187.5" cy="672.1" r="2.0"/><circle cx="123.6" cy="654.0" r="2.2"/><circle cx="110.7" cy="609.5" r="1.8"/><circle cx="177.1" cy="627.2" r="1.8"/><circle cx="167.8" cy="660.9" r="2.2"/><circle cx="223.5" cy="659.4" r="2.2"/><circle cx="111.7" cy="657.3" r="1.8"/><circle cx="181.5" cy="662.2" r="1.8"/><circle cx="140.6" cy="690.9" r="1.8"/><circle cx="201.2" cy="689.4" r="2.2"/><circle cx="227.2" cy="699.3" r="1.8"/><circle cx="196.9" cy="667.3" r="2.2"/><circle cx="165.1" cy="657.1" r="2.0"/><circle cx="116.7" cy="607.9" r="1.8"/><circle cx="125.8" cy="667.3" r="2.2"/><circle cx="158.5" cy="641.2" r="2.0"/><circle cx="149.1" cy="665.1" r="2.0"/><circle cx="219.6" cy="640.8" r="2.0"/><circle cx="232.7" cy="634.9" r="2.2"/><circle cx="95.2" cy="612.1" r="2.2"/><circle cx="214.4" cy="654.7" r="2.0"/><circle cx="218.0" cy="636.7" r="1.8"/><circle cx="202.2" cy="675.6" r="2.0"/><circle cx="223.5" cy="633.8" r="2.0"/><circle cx="126.2" cy="625.3" r="2.0"/><circle cx="110.8" cy="668.7" r="2.2"/><circle cx="146.1" cy="613.7" r="2.0"/><circle cx="110.0" cy="685.6" r="2.2"/><circle cx="144.5" cy="592.3" r="1.8"/><circle cx="211.9" cy="598.6" r="1.8"/><circle cx="103.1" cy="657.4" r="2.0"/><circle cx="148.2" cy="605.0" r="1.8"/><circle cx="132.9" cy="604.3" r="1.8"/><circle cx="153.4" cy="635.2" r="1.8"/><circle cx="160.5" cy="605.0" r="1.8"/><circle cx="158.9" cy="595.4" r="2.2"/><circle cx="112.6" cy="643.0" r="2.0"/><circle cx="132.8" cy="681.7" r="1.8"/><circle cx="172.2" cy="683.7" r="1.8"/><circle cx="159.4" cy="621.5" r="2.2"/><circle cx="183.8" cy="600.1" r="2.2"/><circle cx="173.2" cy="647.9" r="2.0"/><circle cx="194.7" cy="646.6" r="2.2"/><circle cx="149.3" cy="620.6" r="1.8"/><circle cx="220.5" cy="623.5" r="1.8"/><circle cx="193.5" cy="682.6" r="2.0"/><circle cx="194.2" cy="699.9" r="2.0"/><circle cx="185.3" cy="624.1" r="1.8"/><circle cx="188.3" cy="607.2" r="2.0"/><circle cx="143.0" cy="607.6" r="2.2"/><circle cx="225.2" cy="652.5" r="2.0"/><circle cx="165.5" cy="629.3" r="2.2"/><circle cx="97.5" cy="683.7" r="1.8"/><circle cx="129.1" cy="695.8" r="1.8"/><circle cx="195.4" cy="659.9" r="1.8"/><circle cx="118.9" cy="662.5" r="1.8"/><circle cx="172.6" cy="698.4" r="1.8"/><circle cx="96.4" cy="691.0" r="2.2"/><circle cx="232.7" cy="600.6" r="2.2"/><circle cx="229.4" cy="596.3" r="2.2"/><circle cx="112.5" cy="596.9" r="2.0"/><circle cx="140.3" cy="698.2" r="2.0"/><circle cx="202.6" cy="662.8" r="2.0"/><circle cx="187.5" cy="659.8" r="1.8"/><circle cx="154.9" cy="675.1" r="2.2"/><circle cx="105.4" cy="698.9" r="1.8"/><circle cx="222.4" cy="601.4" r="1.8"/><circle cx="200.3" cy="682.5" r="1.8"/><circle cx="125.9" cy="591.3" r="2.2"/><circle cx="188.8" cy="681.1" r="2.0"/><circle cx="198.7" cy="605.0" r="2.2"/><circle cx="232.2" cy="685.0" r="2.0"/><circle cx="124.5" cy="672.6" r="2.0"/><circle cx="154.4" cy="688.8" r="0.7"/><circle cx="153.3" cy="658.6" r="0.85"/><circle cx="139.7" cy="650.7" r="1.3"/><circle cx="131.6" cy="651.0" r="0.7"/><circle cx="117.6" cy="622.2" r="0.85"/><circle cx="160.7" cy="649.2" r="1.0"/><circle cx="194.7" cy="675.2" r="1.0"/><circle cx="212.2" cy="591.4" r="1.0"/><circle cx="205.1" cy="685.3" r="0.85"/><circle cx="157.2" cy="670.9" r="1.45"/><circle cx="133.0" cy="648.5" r="0.7"/><circle cx="209.0" cy="611.9" r="1.0"/><circle cx="169.4" cy="611.2" r="0.85"/><circle cx="146.4" cy="654.8" r="1.45"/><circle cx="134.5" cy="615.9" r="1.3"/><circle cx="188.4" cy="676.3" r="0.85"/><circle cx="143.9" cy="696.6" r="0.7"/><circle cx="173.4" cy="687.9" r="1.45"/><circle cx="148.7" cy="632.8" r="0.85"/><circle cx="120.2" cy="593.2" r="0.7"/><circle cx="115.8" cy="661.5" r="0.85"/><circle cx="150.2" cy="640.6" r="1.45"/><circle cx="105.7" cy="681.2" r="1.3"/><circle cx="171.1" cy="691.8" r="0.85"/><circle cx="152.1" cy="654.9" r="0.7"/><circle cx="156.8" cy="602.4" r="0.7"/><circle cx="138.5" cy="609.4" r="1.6"/><circle cx="176.8" cy="675.6" r="1.45"/><circle cx="148.6" cy="690.7" r="1.0"/><circle cx="210.9" cy="615.0" r="0.85"/><circle cx="120.7" cy="682.7" r="0.85"/><circle cx="102.1" cy="618.0" r="1.0"/><circle cx="182.5" cy="627.5" r="0.85"/><circle cx="212.0" cy="668.9" r="1.15"/><circle cx="108.3" cy="657.1" r="0.85"/><circle cx="149.0" cy="643.7" r="1.0"/><circle cx="117.6" cy="630.5" r="0.7"/><circle cx="232.8" cy="622.2" r="0.7"/><circle cx="139.5" cy="676.0" r="1.45"/><circle cx="230.9" cy="695.5" r="0.85"/><circle cx="211.4" cy="659.1" r="1.6"/><circle cx="143.9" cy="689.8" r="0.85"/><circle cx="135.6" cy="692.2" r="0.7"/><circle cx="150.4" cy="683.1" r="0.85"/><circle cx="176.0" cy="671.2" r="0.7"/><circle cx="184.9" cy="674.7" r="0.7"/><circle cx="201.8" cy="685.5" r="1.0"/><circle cx="129.1" cy="671.4" r="1.6"/><circle cx="205.7" cy="594.9" r="0.85"/><circle cx="177.2" cy="634.0" r="1.3"/><circle cx="222.6" cy="678.2" r="1.15"/><circle cx="161.4" cy="682.0" r="1.3"/><circle cx="152.3" cy="602.1" r="1.15"/><circle cx="97.4" cy="695.8" r="0.7"/><circle cx="175.1" cy="629.7" r="0.85"/><circle cx="178.3" cy="596.9" r="0.85"/><circle cx="169.0" cy="603.1" r="1.3"/><circle cx="142.3" cy="678.8" r="0.7"/><circle cx="203.6" cy="672.4" r="0.7"/><circle cx="106.1" cy="656.2" r="0.7"/><circle cx="221.8" cy="593.0" r="1.15"/><circle cx="135.6" cy="661.6" r="1.15"/><circle cx="143.1" cy="625.5" r="0.85"/><circle cx="106.4" cy="669.4" r="0.7"/><circle cx="189.2" cy="632.5" r="0.7"/><circle cx="117.5" cy="645.9" r="1.3"/><circle cx="205.4" cy="636.8" r="1.0"/><circle cx="108.5" cy="644.7" r="0.7"/><circle cx="227.5" cy="635.5" r="1.15"/><circle cx="211.0" cy="699.4" r="0.7"/><circle cx="200.2" cy="614.9" r="1.0"/><circle cx="117.1" cy="671.4" r="0.85"/><circle cx="171.8" cy="620.2" r="1.45"/><circle cx="155.1" cy="614.9" r="0.7"/><circle cx="189.5" cy="698.9" r="0.7"/><circle cx="101.3" cy="676.2" r="0.7"/><circle cx="143.3" cy="681.9" r="1.45"/><circle cx="125.5" cy="640.8" r="1.0"/><circle cx="152.0" cy="626.8" r="1.0"/><circle cx="228.2" cy="694.8" r="1.3"/><circle cx="200.7" cy="650.9" r="0.85"/><circle cx="175.8" cy="664.9" r="0.7"/><circle cx="191.3" cy="656.6" r="1.0"/><circle cx="221.2" cy="617.0" r="1.3"/><circle cx="221.6" cy="666.4" r="0.7"/><circle cx="157.1" cy="679.4" r="1.3"/><circle cx="213.2" cy="661.7" r="0.85"/><circle cx="128.6" cy="596.3" r="0.7"/><circle cx="149.8" cy="635.5" r="1.15"/><circle cx="186.2" cy="637.8" r="0.7"/><circle cx="172.8" cy="671.8" r="0.85"/><circle cx="200.8" cy="591.9" r="0.85"/><circle cx="153.2" cy="691.4" r="1.0"/><circle cx="128.3" cy="663.3" r="0.7"/><circle cx="187.6" cy="597.6" r="0.7"/><circle cx="138.8" cy="661.4" r="1.15"/><circle cx="213.7" cy="635.8" r="1.0"/><circle cx="212.4" cy="629.6" r="1.0"/><circle cx="197.0" cy="657.1" r="0.85"/><circle cx="195.0" cy="690.0" r="1.0"/><circle cx="231.0" cy="644.1" r="1.15"/><circle cx="163.2" cy="622.1" r="1.0"/><circle cx="166.0" cy="600.5" r="1.0"/><circle cx="187.5" cy="652.0" r="1.0"/><circle cx="133.6" cy="644.4" r="0.7"/><circle cx="95.5" cy="656.1" r="0.85"/><circle cx="179.0" cy="622.3" r="0.7"/><circle cx="118.7" cy="635.5" r="1.0"/><circle cx="205.6" cy="653.5" r="0.7"/><circle cx="113.7" cy="622.0" r="0.85"/><circle cx="223.2" cy="690.4" r="1.15"/><circle cx="199.0" cy="698.2" r="0.7"/><circle cx="171.4" cy="669.7" r="0.85"/><circle cx="115.0" cy="670.6" r="0.7"/><circle cx="125.6" cy="633.2" r="0.85"/><circle cx="215.2" cy="697.5" r="1.0"/><circle cx="112.0" cy="693.0" r="1.15"/><circle cx="97.9" cy="628.2" r="0.85"/><circle cx="95.7" cy="668.1" r="1.3"/><circle cx="106.6" cy="638.1" r="0.7"/><circle cx="232.1" cy="692.8" r="1.45"/><circle cx="172.0" cy="602.2" r="0.85"/><circle cx="120.7" cy="627.2" r="1.0"/><circle cx="157.5" cy="626.4" r="1.0"/><circle cx="188.4" cy="666.9" r="1.0"/><circle cx="158.1" cy="656.6" r="0.85"/><circle cx="181.7" cy="692.0" r="0.7"/><circle cx="138.7" cy="634.1" r="0.7"/><circle cx="175.3" cy="678.4" r="0.85"/><circle cx="160.7" cy="671.0" r="0.85"/><circle cx="130.0" cy="627.2" r="1.15"/><circle cx="96.4" cy="645.5" r="0.85"/><circle cx="232.7" cy="649.6" r="0.7"/><circle cx="132.9" cy="685.2" r="0.85"/><circle cx="207.6" cy="684.5" r="1.15"/><circle cx="191.6" cy="643.2" r="0.7"/><circle cx="210.9" cy="602.8" r="1.0"/><circle cx="200.5" cy="611.1" r="1.15"/><circle cx="178.8" cy="620.2" r="0.7"/><circle cx="145.7" cy="641.0" r="0.7"/><circle cx="151.0" cy="624.4" r="0.7"/><circle cx="162.7" cy="691.1" r="1.15"/><circle cx="164.1" cy="696.4" r="1.15"/><circle cx="161.6" cy="699.3" r="0.85"/><circle cx="189.8" cy="692.8" r="1.15"/><circle cx="230.9" cy="631.1" r="1.3"/><circle cx="98.4" cy="615.8" r="1.6"/><circle cx="111.1" cy="601.1" r="0.85"/><circle cx="206.1" cy="646.0" r="1.15"/><circle cx="115.9" cy="676.6" r="0.7"/><circle cx="114.4" cy="634.5" r="1.3"/><circle cx="187.9" cy="691.0" r="1.0"/><circle cx="220.7" cy="668.6" r="1.15"/><circle cx="106.3" cy="644.8" r="1.0"/><circle cx="105.2" cy="620.0" r="1.6"/><circle cx="146.8" cy="648.6" r="0.7"/><circle cx="143.4" cy="672.1" r="1.15"/><circle cx="95.5" cy="699.7" r="1.0"/><circle cx="225.9" cy="676.4" r="0.85"/><circle cx="114.3" cy="652.6" r="0.85"/><circle cx="161.7" cy="631.3" r="0.7"/><circle cx="152.1" cy="604.8" r="0.85"/><circle cx="95.3" cy="593.4" r="0.7"/><circle cx="206.1" cy="622.1" r="1.3"/><circle cx="132.9" cy="627.6" r="1.0"/><circle cx="206.1" cy="676.8" r="1.3"/><circle cx="157.2" cy="612.9" r="0.7"/><circle cx="166.7" cy="665.7" r="1.15"/><circle cx="203.1" cy="593.4" r="0.7"/><circle cx="206.4" cy="658.7" r="1.15"/><circle cx="107.9" cy="615.5" r="0.7"/><circle cx="129.4" cy="683.8" r="1.3"/><circle cx="124.9" cy="621.0" r="1.0"/><circle cx="102.4" cy="664.2" r="0.7"/><circle cx="156.0" cy="644.3" r="1.15"/><circle cx="106.4" cy="666.1" r="0.7"/><circle cx="202.4" cy="605.7" r="0.85"/><circle cx="168.7" cy="596.0" r="1.15"/><circle cx="170.0" cy="681.1" r="0.85"/><circle cx="206.3" cy="639.2" r="0.7"/><circle cx="138.0" cy="693.1" r="0.85"/><circle cx="232.6" cy="689.3" r="1.0"/><circle cx="147.4" cy="681.3" r="1.6"/><circle cx="118.4" cy="654.7" r="1.45"/><circle cx="132.3" cy="638.2" r="0.7"/><circle cx="99.7" cy="673.4" r="1.0"/><circle cx="200.5" cy="630.6" r="0.85"/><circle cx="121.7" cy="699.9" r="0.7"/><circle cx="182.4" cy="651.9" r="0.85"/><circle cx="154.6" cy="685.3" r="0.7"/><circle cx="153.3" cy="629.5" r="1.0"/><circle cx="217.0" cy="693.1" r="0.7"/><circle cx="198.3" cy="618.5" r="0.85"/><circle cx="171.5" cy="610.1" r="0.85"/><circle cx="119.6" cy="698.6" r="1.15"/><circle cx="108.1" cy="613.1" r="0.7"/><circle cx="99.3" cy="622.5" r="1.15"/><circle cx="136.7" cy="613.5" r="1.0"/><circle cx="112.1" cy="699.9" r="1.0"/><circle cx="232.6" cy="676.5" r="0.7"/><circle cx="105.2" cy="595.4" r="1.3"/><circle cx="137.1" cy="690.3" r="1.0"/><circle cx="116.8" cy="643.3" r="0.85"/><circle cx="101.9" cy="651.1" r="0.7"/><circle cx="158.5" cy="644.7" r="0.85"/><circle cx="198.2" cy="613.8" r="0.7"/><circle cx="184.5" cy="658.3" r="0.7"/><circle cx="215.3" cy="627.8" r="1.6"/><circle cx="186.2" cy="668.6" r="1.0"/><circle cx="139.3" cy="594.0" r="1.0"/><circle cx="213.3" cy="698.7" r="0.7"/><circle cx="108.8" cy="622.0" r="1.3"/><circle cx="229.0" cy="675.3" r="1.45"/><circle cx="180.3" cy="665.3" r="1.0"/><circle cx="165.9" cy="676.0" r="0.7"/><circle cx="213.9" cy="595.6" r="0.7"/><circle cx="156.4" cy="665.8" r="1.15"/><circle cx="165.3" cy="639.8" r="1.3"/><circle cx="100.8" cy="626.0" r="1.15"/><circle cx="107.5" cy="609.4" r="0.85"/><circle cx="194.5" cy="642.2" r="0.85"/><circle cx="121.6" cy="638.3" r="0.7"/><circle cx="109.6" cy="641.6" r="0.7"/><circle cx="171.1" cy="630.6" r="0.7"/><circle cx="183.1" cy="592.3" r="0.85"/><circle cx="175.2" cy="681.3" r="1.45"/><circle cx="160.0" cy="610.0" r="1.45"/><circle cx="151.2" cy="657.4" r="1.0"/><circle cx="142.4" cy="640.2" r="0.7"/><circle cx="138.4" cy="597.5" r="1.6"/><circle cx="224.2" cy="604.3" r="0.85"/><circle cx="107.6" cy="677.2" r="1.3"/><circle cx="112.8" cy="660.1" r="0.7"/><circle cx="225.5" cy="593.2" r="1.45"/><circle cx="165.0" cy="699.1" r="0.85"/><circle cx="157.4" cy="650.0" r="1.15"/><circle cx="161.5" cy="616.6" r="1.3"/><circle cx="109.3" cy="659.7" r="0.7"/><circle cx="128.3" cy="608.2" r="0.7"/><circle cx="179.3" cy="690.7" r="1.0"/><circle cx="168.4" cy="685.9" r="0.85"/><circle cx="197.5" cy="692.5" r="0.7"/><circle cx="208.8" cy="595.0" r="0.85"/><circle cx="119.0" cy="624.2" r="0.7"/><circle cx="129.8" cy="591.1" r="0.85"/><circle cx="205.2" cy="656.4" r="0.7"/><circle cx="140.8" cy="667.3" r="1.0"/><circle cx="190.7" cy="593.8" r="1.3"/><circle cx="104.4" cy="632.4" r="1.45"/><circle cx="95.2" cy="628.7" r="1.15"/><circle cx="181.9" cy="648.0" r="0.85"/><circle cx="190.2" cy="646.7" r="0.7"/><circle cx="187.6" cy="646.9" r="0.85"/><circle cx="165.7" cy="622.1" r="1.0"/><circle cx="146.7" cy="634.1" r="1.0"/><circle cx="128.7" cy="675.2" r="1.15"/><circle cx="203.0" cy="595.8" r="1.0"/><circle cx="114.9" cy="684.0" r="0.7"/><circle cx="182.5" cy="698.7" r="0.7"/><circle cx="121.3" cy="657.9" r="0.85"/><circle cx="212.5" cy="671.5" r="0.7"/><circle cx="122.3" cy="599.3" r="0.7"/><circle cx="215.3" cy="651.4" r="0.7"/><circle cx="125.3" cy="628.7" r="0.7"/><circle cx="135.9" cy="638.9" r="0.85"/><circle cx="192.0" cy="674.4" r="0.85"/><circle cx="121.3" cy="690.7" r="0.85"/><circle cx="214.3" cy="689.2" r="1.15"/><circle cx="193.2" cy="654.3" r="1.45"/><circle cx="195.9" cy="613.8" r="1.0"/><circle cx="232.8" cy="609.3" r="1.3"/><circle cx="129.6" cy="606.3" r="0.85"/><circle cx="229.9" cy="650.9" r="1.15"/><circle cx="177.0" cy="699.9" r="1.3"/><circle cx="198.0" cy="625.2" r="0.7"/><circle cx="166.5" cy="645.2" r="0.7"/><circle cx="228.3" cy="685.3" r="1.3"/><circle cx="140.7" cy="673.1" r="0.85"/><circle cx="147.4" cy="646.0" r="1.0"/><circle cx="198.1" cy="632.1" r="0.85"/><circle cx="96.1" cy="672.8" r="1.0"/><circle cx="129.4" cy="636.3" r="1.6"/><circle cx="147.9" cy="629.8" r="1.6"/><circle cx="140.6" cy="648.0" r="0.85"/><circle cx="208.0" cy="666.9" r="0.85"/><circle cx="226.2" cy="600.1" r="0.7"/><circle cx="222.2" cy="698.6" r="1.45"/><circle cx="105.2" cy="653.7" r="1.15"/><circle cx="144.5" cy="650.9" r="0.85"/><circle cx="103.3" cy="662.3" r="0.7"/><circle cx="206.7" cy="698.3" r="1.0"/><circle cx="120.6" cy="645.3" r="1.0"/><circle cx="145.2" cy="693.7" r="0.7"/><circle cx="199.3" cy="664.1" r="1.0"/><circle cx="180.7" cy="629.1" r="0.7"/><circle cx="95.1" cy="694.7" r="0.85"/><circle cx="155.2" cy="627.3" r="0.7"/><circle cx="100.9" cy="634.3" r="0.85"/><circle cx="222.2" cy="687.4" r="0.7"/><circle cx="151.4" cy="632.3" r="0.85"/><circle cx="169.4" cy="645.2" r="0.85"/><circle cx="122.1" cy="664.7" r="1.0"/><circle cx="181.0" cy="685.5" r="1.15"/><circle cx="186.3" cy="618.1" r="0.85"/><circle cx="132.8" cy="619.2" r="0.7"/><circle cx="97.4" cy="632.5" r="0.7"/><circle cx="154.4" cy="655.6" r="0.7"/><circle cx="204.4" cy="607.8" r="0.85"/><circle cx="214.7" cy="672.2" r="0.7"/><circle cx="207.4" cy="627.6" r="1.6"/><circle cx="165.3" cy="609.1" r="0.7"/><circle cx="207.9" cy="647.5" r="0.7"/><circle cx="209.2" cy="650.1" r="1.15"/><circle cx="203.3" cy="628.6" r="0.85"/><circle cx="162.6" cy="609.3" r="0.7"/><circle cx="153.5" cy="653.0" r="0.85"/><circle cx="184.8" cy="639.5" r="0.7"/><circle cx="139.2" cy="636.4" r="0.7"/><circle cx="190.9" cy="635.4" r="1.15"/><circle cx="171.3" cy="661.9" r="0.85"/><circle cx="218.8" cy="618.9" r="0.85"/><circle cx="130.5" cy="598.1" r="1.0"/><circle cx="163.2" cy="678.1" r="0.85"/><circle cx="172.1" cy="694.2" r="1.0"/><circle cx="204.4" cy="642.1" r="1.0"/><circle cx="119.6" cy="618.1" r="0.85"/><circle cx="181.3" cy="655.3" r="1.15"/><circle cx="95.6" cy="641.5" r="0.7"/><circle cx="142.0" cy="622.2" r="1.15"/><circle cx="199.9" cy="693.4" r="1.0"/><circle cx="95.7" cy="697.0" r="0.85"/><circle cx="109.8" cy="593.3" r="1.0"/><circle cx="215.4" cy="662.8" r="0.7"/><circle cx="217.2" cy="595.5" r="0.7"/><circle cx="174.6" cy="642.7" r="0.85"/><circle cx="209.5" cy="592.1" r="1.15"/><circle cx="179.8" cy="599.0" r="1.15"/><circle cx="177.0" cy="648.7" r="1.0"/><circle cx="219.2" cy="594.7" r="0.7"/><circle cx="146.1" cy="699.4" r="1.3"/><circle cx="101.6" cy="691.3" r="0.85"/><circle cx="230.2" cy="670.2" r="0.85"/><circle cx="187.8" cy="687.4" r="0.7"/><circle cx="104.4" cy="607.4" r="0.85"/><circle cx="127.3" cy="651.3" r="1.0"/><circle cx="184.1" cy="669.8" r="0.85"/><circle cx="190.6" cy="695.8" r="0.7"/><circle cx="181.5" cy="667.9" r="1.15"/><circle cx="155.6" cy="658.4" r="0.7"/><circle cx="182.2" cy="681.4" r="1.3"/><circle cx="170.5" cy="688.8" r="1.0"/><circle cx="130.9" cy="692.0" r="1.0"/><circle cx="160.0" cy="633.9" r="0.85"/><circle cx="225.8" cy="691.1" r="1.0"/><circle cx="95.4" cy="652.6" r="1.0"/><circle cx="101.4" cy="597.6" r="0.85"/><circle cx="204.9" cy="688.9" r="1.0"/><circle cx="181.2" cy="608.5" r="0.7"/><circle cx="224.3" cy="607.9" r="0.7"/><circle cx="138.4" cy="601.2" r="1.3"/><circle cx="146.3" cy="690.2" r="0.7"/><circle cx="176.0" cy="595.5" r="0.7"/><circle cx="185.7" cy="614.0" r="1.0"/><circle cx="177.8" cy="608.2" r="0.7"/><circle cx="179.3" cy="687.7" r="0.85"/><circle cx="137.2" cy="650.3" r="0.7"/><circle cx="169.7" cy="607.5" r="0.7"/><circle cx="185.7" cy="648.6" r="0.7"/><circle cx="222.5" cy="642.3" r="0.7"/><circle cx="225.4" cy="642.8" r="0.85"/><circle cx="212.8" cy="651.1" r="0.85"/><circle cx="119.4" cy="599.2" r="0.85"/><circle cx="197.1" cy="696.5" r="0.85"/><circle cx="217.2" cy="686.4" r="1.0"/><circle cx="153.6" cy="619.5" r="0.85"/><circle cx="211.9" cy="675.2" r="1.0"/><circle cx="179.1" cy="681.4" r="0.85"/><circle cx="169.6" cy="628.9" r="1.0"/><circle cx="99.1" cy="591.5" r="0.7"/><circle cx="99.1" cy="679.8" r="0.7"/><circle cx="173.4" cy="591.2" r="0.85"/><circle cx="116.2" cy="689.6" r="0.7"/><circle cx="198.1" cy="646.9" r="0.7"/><circle cx="225.1" cy="648.7" r="1.0"/><circle cx="147.1" cy="617.4" r="0.7"/><circle cx="177.2" cy="631.4" r="0.7"/><circle cx="123.9" cy="690.5" r="0.85"/><circle cx="202.0" cy="641.1" r="0.85"/><circle cx="140.2" cy="669.7" r="0.7"/><circle cx="151.5" cy="596.3" r="1.0"/><circle cx="150.4" cy="612.2" r="0.85"/><circle cx="162.3" cy="646.8" r="0.7"/><circle cx="224.1" cy="615.9" r="0.85"/><circle cx="213.2" cy="606.3" r="1.3"/><circle cx="198.3" cy="622.5" r="1.15"/><circle cx="208.8" cy="614.7" r="0.7"/><circle cx="226.1" cy="679.0" r="0.85"/><circle cx="135.8" cy="699.9" r="0.7"/><circle cx="125.5" cy="695.2" r="0.85"/><circle cx="126.9" cy="657.8" r="0.85"/><circle cx="232.9" cy="646.3" r="1.15"/><circle cx="156.9" cy="694.6" r="0.7"/><circle cx="118.5" cy="632.8" r="0.85"/><circle cx="230.6" cy="621.2" r="1.0"/><circle cx="169.7" cy="657.8" r="0.85"/><circle cx="173.8" cy="666.9" r="0.85"/><circle cx="201.8" cy="608.1" r="0.85"/><circle cx="191.8" cy="659.6" r="1.15"/><circle cx="210.1" cy="682.9" r="0.7"/><circle cx="211.5" cy="594.7" r="1.15"/><circle cx="136.0" cy="595.4" r="0.85"/><circle cx="229.1" cy="633.4" r="0.7"/><circle cx="142.3" cy="649.8" r="0.7"/><circle cx="168.9" cy="599.5" r="1.0"/><circle cx="180.4" cy="616.6" r="0.85"/><circle cx="112.8" cy="605.2" r="1.6"/><circle cx="129.7" cy="601.9" r="1.15"/><circle cx="134.7" cy="665.9" r="0.85"/><circle cx="173.2" cy="652.1" r="0.7"/><circle cx="146.7" cy="643.1" r="0.7"/><circle cx="183.4" cy="603.9" r="0.85"/><circle cx="218.5" cy="681.7" r="1.0"/><circle cx="232.6" cy="669.6" r="0.85"/><circle cx="144.7" cy="658.6" r="0.85"/><circle cx="219.6" cy="613.8" r="0.7"/><circle cx="106.9" cy="592.2" r="1.0"/><circle cx="136.0" cy="626.7" r="0.7"/><circle cx="151.4" cy="608.5" r="0.7"/><circle cx="166.1" cy="679.3" r="1.15"/><circle cx="174.8" cy="673.6" r="0.85"/><circle cx="110.5" cy="635.4" r="0.7"/><circle cx="203.1" cy="609.9" r="0.85"/><circle cx="106.8" cy="658.7" r="0.85"/><circle cx="156.5" cy="686.6" r="0.85"/><circle cx="208.1" cy="693.9" r="0.85"/><circle cx="153.6" cy="594.4" r="0.85"/><circle cx="100.5" cy="649.1" r="0.85"/><circle cx="104.1" cy="604.5" r="0.7"/><circle cx="215.8" cy="643.7" r="0.7"/><circle cx="188.3" cy="656.5" r="0.85"/><circle cx="136.4" cy="675.6" r="1.0"/><circle cx="179.9" cy="649.6" r="0.85"/><circle cx="232.7" cy="665.0" r="0.7"/><circle cx="198.7" cy="660.0" r="0.7"/><circle cx="208.0" cy="609.8" r="0.7"/><circle cx="183.8" cy="637.0" r="1.0"/><circle cx="127.5" cy="616.4" r="0.7"/><circle cx="206.3" cy="619.2" r="0.7"/><circle cx="121.7" cy="635.7" r="0.7"/><circle cx="108.5" cy="635.2" r="0.7"/><circle cx="149.2" cy="670.1" r="1.15"/><circle cx="185.7" cy="604.7" r="1.0"/><circle cx="131.9" cy="630.8" r="1.15"/><circle cx="100.5" cy="620.2" r="0.7"/><circle cx="153.4" cy="665.2" r="0.7"/><circle cx="176.2" cy="597.5" r="0.7"/><circle cx="180.3" cy="625.3" r="1.15"/><circle cx="173.2" cy="618.0" r="0.7"/><circle cx="105.8" cy="610.8" r="0.85"/><circle cx="159.9" cy="613.9" r="1.0"/><circle cx="104.4" cy="678.1" r="0.7"/><circle cx="194.7" cy="625.8" r="0.85"/><circle cx="104.1" cy="627.0" r="0.85"/><circle cx="148.5" cy="656.9" r="0.7"/><circle cx="124.8" cy="676.2" r="0.7"/><circle cx="151.0" cy="692.9" r="0.7"/><circle cx="213.9" cy="632.0" r="0.7"/><circle cx="177.0" cy="605.5" r="1.0"/><circle cx="154.1" cy="699.0" r="0.7"/><circle cx="117.8" cy="683.6" r="0.85"/><circle cx="170.0" cy="649.7" r="1.15"/><circle cx="159.4" cy="591.2" r="0.7"/><circle cx="197.1" cy="683.4" r="0.7"/><circle cx="212.5" cy="633.4" r="0.7"/><circle cx="182.4" cy="675.3" r="0.7"/><circle cx="192.9" cy="591.8" r="0.7"/><circle cx="232.7" cy="617.5" r="1.6"/><circle cx="146.0" cy="671.1" r="0.7"/><circle cx="133.9" cy="691.2" r="0.7"/><circle cx="117.5" cy="604.9" r="0.7"/><circle cx="175.0" cy="696.2" r="0.85"/><circle cx="147.6" cy="600.6" r="0.7"/><circle cx="177.1" cy="687.9" r="0.7"/><circle cx="228.0" cy="613.2" r="1.15"/><circle cx="110.0" cy="690.6" r="0.7"/><circle cx="207.9" cy="652.8" r="0.7"/><circle cx="133.4" cy="646.5" r="0.85"/><circle cx="95.2" cy="679.6" r="0.7"/><circle cx="183.1" cy="607.0" r="1.15"/><circle cx="155.9" cy="697.0" r="1.0"/><circle cx="98.6" cy="609.0" r="0.7"/><circle cx="212.4" cy="613.3" r="0.7"/><circle cx="186.3" cy="700.0" r="0.85"/><circle cx="217.4" cy="606.5" r="0.7"/><circle cx="212.3" cy="616.7" r="0.7"/><circle cx="205.4" cy="610.1" r="0.85"/><circle cx="96.7" cy="638.6" r="0.85"/><circle cx="131.9" cy="633.7" r="0.85"/><circle cx="163.3" cy="669.4" r="0.7"/><circle cx="149.4" cy="678.3" r="0.7"/><circle cx="101.9" cy="671.8" r="0.7"/><circle cx="174.1" cy="594.2" r="0.7"/><circle cx="95.3" cy="686.9" r="0.85"/><circle cx="232.8" cy="679.5" r="0.85"/><circle cx="167.2" cy="615.3" r="1.0"/><circle cx="210.5" cy="652.2" r="0.7"/><circle cx="116.4" cy="650.9" r="1.15"/><circle cx="210.9" cy="610.0" r="0.7"/><circle cx="173.6" cy="669.5" r="0.7"/><circle cx="172.5" cy="628.0" r="1.15"/><circle cx="192.3" cy="619.7" r="0.7"/><circle cx="226.2" cy="645.2" r="0.7"/><circle cx="229.5" cy="624.8" r="0.7"/><circle cx="103.5" cy="629.8" r="0.7"/><circle cx="164.1" cy="666.9" r="1.0"/><circle cx="187.9" cy="685.3" r="0.85"/><circle cx="118.7" cy="615.5" r="1.0"/><circle cx="229.7" cy="697.5" r="0.7"/><circle cx="219.1" cy="684.1" r="0.85"/><circle cx="219.1" cy="610.4" r="0.85"/><circle cx="138.6" cy="638.4" r="0.7"/><circle cx="220.6" cy="632.2" r="0.7"/><circle cx="98.6" cy="612.4" r="0.7"/><circle cx="219.3" cy="659.0" r="1.0"/><circle cx="232.8" cy="593.1" r="1.0"/><circle cx="219.3" cy="665.6" r="0.7"/><circle cx="228.0" cy="643.8" r="0.7"/><circle cx="173.1" cy="675.0" r="0.7"/><circle cx="199.6" cy="608.6" r="0.7"/><circle cx="222.8" cy="663.8" r="0.7"/><circle cx="154.1" cy="638.4" r="0.7"/><circle cx="99.5" cy="645.2" r="0.7"/><circle cx="140.8" cy="591.5" r="0.7"/><circle cx="171.9" cy="658.2" r="0.7"/><circle cx="134.1" cy="641.5" r="1.3"/><circle cx="95.0" cy="643.6" r="0.7"/><circle cx="226.2" cy="683.4" r="0.7"/><circle cx="166.9" cy="611.0" r="0.85"/><circle cx="123.1" cy="627.1" r="0.85"/><circle cx="200.6" cy="594.0" r="0.7"/><circle cx="228.7" cy="600.3" r="1.0"/><circle cx="117.8" cy="591.4" r="1.3"/><circle cx="197.0" cy="663.4" r="0.7"/><circle cx="122.2" cy="591.7" r="1.0"/><circle cx="116.4" cy="673.9" r="1.0"/><circle cx="158.4" cy="647.6" r="1.0"/><circle cx="207.9" cy="669.1" r="0.85"/><circle cx="101.4" cy="661.3" r="0.85"/><circle cx="163.7" cy="661.2" r="0.7"/><circle cx="106.1" cy="636.1" r="0.7"/><circle cx="201.9" cy="671.0" r="1.0"/><circle cx="229.5" cy="653.5" r="0.85"/><circle cx="228.7" cy="622.5" r="0.85"/><circle cx="184.4" cy="660.7" r="0.85"/><circle cx="139.4" cy="617.0" r="0.7"/><circle cx="207.0" cy="642.8" r="0.85"/><circle cx="163.2" cy="649.1" r="1.0"/><circle cx="126.0" cy="608.0" r="0.85"/><circle cx="163.2" cy="672.2" r="0.7"/><circle cx="121.5" cy="660.6" r="0.7"/><circle cx="141.6" cy="603.8" r="0.7"/><circle cx="150.4" cy="648.8" r="0.7"/><circle cx="149.7" cy="699.2" r="1.0"/><circle cx="228.5" cy="663.9" r="0.85"/><circle cx="154.4" cy="617.4" r="0.7"/><circle cx="225.8" cy="662.7" r="1.0"/><circle cx="109.7" cy="614.6" r="0.7"/><circle cx="163.9" cy="663.7" r="0.85"/><circle cx="131.9" cy="671.9" r="0.7"/><circle cx="200.9" cy="653.5" r="0.85"/><circle cx="181.4" cy="688.4" r="0.7"/><circle cx="95.1" cy="661.2" r="1.0"/><circle cx="99.4" cy="618.5" r="0.7"/><circle cx="195.4" cy="679.4" r="0.7"/><circle cx="198.1" cy="642.7" r="1.0"/><circle cx="228.2" cy="627.1" r="0.7"/><circle cx="120.1" cy="620.8" r="0.85"/><circle cx="138.9" cy="694.9" r="0.7"/><circle cx="126.5" cy="643.9" r="1.0"/><circle cx="99.2" cy="636.7" r="1.45"/><circle cx="178.4" cy="663.4" r="0.85"/><circle cx="166.7" cy="591.1" r="1.0"/><circle cx="210.5" cy="647.6" r="0.7"/><circle cx="127.1" cy="688.7" r="0.7"/><circle cx="183.7" cy="642.2" r="0.7"/><circle cx="170.5" cy="638.8" r="1.0"/><circle cx="152.8" cy="592.3" r="0.7"/><circle cx="129.7" cy="667.6" r="0.7"/><circle cx="137.1" cy="652.9" r="0.7"/><circle cx="164.7" cy="624.7" r="1.0"/><circle cx="141.0" cy="694.3" r="0.85"/><circle cx="189.4" cy="644.5" r="0.7"/><circle cx="161.2" cy="638.8" r="0.85"/><circle cx="202.6" cy="680.1" r="0.85"/><circle cx="208.3" cy="696.4" r="0.7"/><circle cx="140.1" cy="682.7" r="0.85"/><circle cx="113.7" cy="638.6" r="0.7"/><circle cx="139.3" cy="631.3" r="0.85"/><circle cx="168.1" cy="638.5" r="0.7"/><circle cx="188.9" cy="637.3" r="0.85"/><circle cx="166.7" cy="632.9" r="0.7"/><circle cx="211.2" cy="641.6" r="0.7"/><circle cx="122.2" cy="620.0" r="0.7"/><circle cx="166.1" cy="651.8" r="0.7"/><circle cx="216.3" cy="683.8" r="0.7"/><circle cx="129.0" cy="699.6" r="1.0"/><circle cx="197.8" cy="649.2" r="0.7"/><circle cx="136.1" cy="683.3" r="0.7"/><circle cx="154.6" cy="602.7" r="0.7"/><circle cx="164.7" cy="633.1" r="0.7"/><circle cx="232.6" cy="652.6" r="0.7"/><circle cx="225.7" cy="614.4" r="0.7"/><circle cx="208.8" cy="699.7" r="0.85"/><circle cx="182.6" cy="659.3" r="0.7"/><circle cx="229.5" cy="672.4" r="0.85"/><circle cx="150.8" cy="629.3" r="0.7"/><circle cx="207.4" cy="634.9" r="0.85"/><circle cx="217.5" cy="653.3" r="0.7"/><circle cx="194.9" cy="673.0" r="0.7"/><circle cx="172.3" cy="679.5" r="1.0"/><circle cx="143.5" cy="699.8" r="0.7"/><circle cx="232.6" cy="642.4" r="0.7"/><circle cx="133.5" cy="656.5" r="0.7"/><circle cx="169.4" cy="695.0" r="0.7"/><circle cx="175.7" cy="607.8" r="0.85"/><circle cx="115.1" cy="655.3" r="1.3"/><circle cx="127.0" cy="685.9" r="1.15"/><circle cx="157.5" cy="663.3" r="0.7"/><circle cx="166.3" cy="668.1" r="0.7"/><circle cx="203.2" cy="653.7" r="0.7"/><circle cx="143.2" cy="694.2" r="0.85"/><circle cx="111.9" cy="621.0" r="0.7"/><circle cx="195.4" cy="632.3" r="0.85"/><circle cx="183.0" cy="615.3" r="0.85"/><circle cx="220.2" cy="671.5" r="0.85"/><circle cx="190.1" cy="654.7" r="0.7"/><circle cx="208.9" cy="601.8" r="0.7"/><circle cx="168.5" cy="631.6" r="1.0"/><circle cx="151.9" cy="643.8" r="0.85"/><circle cx="140.8" cy="619.4" r="0.85"/><circle cx="128.0" cy="594.5" r="0.7"/><circle cx="189.6" cy="674.5" r="0.7"/><circle cx="171.5" cy="673.7" r="0.85"/><circle cx="163.6" cy="602.1" r="1.0"/><circle cx="129.5" cy="623.8" r="1.0"/><circle cx="109.0" cy="699.9" r="1.0"/><circle cx="208.8" cy="681.1" r="0.7"/><circle cx="133.7" cy="673.0" r="0.7"/><circle cx="181.4" cy="643.5" r="0.7"/><circle cx="100.3" cy="602.0" r="0.7"/><circle cx="221.0" cy="597.6" r="0.85"/><circle cx="152.3" cy="699.9" r="0.85"/><circle cx="149.8" cy="598.8" r="0.7"/><circle cx="118.8" cy="677.7" r="0.7"/><circle cx="124.3" cy="601.8" r="0.85"/><circle cx="108.6" cy="672.1" r="1.3"/><circle cx="177.5" cy="636.6" r="0.7"/><circle cx="110.6" cy="629.3" r="0.7"/><circle cx="138.3" cy="627.7" r="0.85"/><circle cx="123.8" cy="657.8" r="0.85"/><circle cx="113.8" cy="694.5" r="0.7"/><circle cx="100.6" cy="613.6" r="0.7"/><circle cx="221.5" cy="636.5" r="0.7"/><circle cx="187.2" cy="600.1" r="0.7"/><circle cx="140.9" cy="599.2" r="0.85"/><circle cx="118.3" cy="628.3" r="0.7"/><circle cx="201.3" cy="633.0" r="0.7"/><circle cx="230.1" cy="607.4" r="0.7"/><circle cx="207.8" cy="640.6" r="0.7"/><circle cx="200.6" cy="669.0" r="0.7"/><circle cx="106.9" cy="624.2" r="0.7"/><circle cx="206.8" cy="602.1" r="0.85"/><circle cx="198.9" cy="592.6" r="0.7"/><circle cx="207.5" cy="617.0" r="0.85"/><circle cx="150.5" cy="646.2" r="0.85"/><circle cx="112.5" cy="628.1" r="0.7"/><circle cx="181.4" cy="623.2" r="0.7"/><circle cx="124.5" cy="609.7" r="0.7"/><circle cx="197.0" cy="597.2" r="0.7"/><circle cx="160.4" cy="656.6" r="0.7"/><circle cx="121.1" cy="685.4" r="0.7"/><circle cx="232.9" cy="695.7" r="0.7"/><circle cx="194.6" cy="664.3" r="0.85"/><circle cx="156.1" cy="668.4" r="0.7"/><circle cx="124.2" cy="612.9" r="0.85"/><circle cx="135.8" cy="607.5" r="0.7"/><circle cx="113.4" cy="682.6" r="0.7"/><circle cx="154.6" cy="694.6" r="0.85"/><circle cx="102.7" cy="697.3" r="0.7"/><circle cx="156.7" cy="634.2" r="0.7"/><circle cx="187.8" cy="611.8" r="0.85"/><circle cx="144.5" cy="623.3" r="0.85"/><circle cx="137.7" cy="616.0" r="0.7"/><circle cx="156.0" cy="620.0" r="0.7"/><circle cx="203.9" cy="598.2" r="0.7"/><circle cx="112.2" cy="636.5" r="0.7"/><circle cx="219.4" cy="677.9" r="0.7"/><circle cx="95.0" cy="670.7" r="0.7"/><circle cx="213.7" cy="643.6" r="0.7"/><circle cx="215.5" cy="681.8" r="0.85"/><circle cx="144.9" cy="632.6" r="0.7"/><circle cx="95.2" cy="631.5" r="0.7"/><circle cx="192.0" cy="632.8" r="0.7"/><circle cx="217.6" cy="626.2" r="0.7"/><circle cx="190.5" cy="591.1" r="0.7"/><circle cx="152.1" cy="638.4" r="0.7"/><circle cx="151.3" cy="661.3" r="0.7"/><circle cx="217.0" cy="650.0" r="0.7"/><circle cx="184.7" cy="650.9" r="0.85"/><circle cx="227.5" cy="620.6" r="0.7"/><circle cx="125.2" cy="650.3" r="0.7"/><circle cx="213.4" cy="601.9" r="0.7"/><circle cx="95.1" cy="658.1" r="0.7"/><circle cx="135.6" cy="602.8" r="0.7"/><circle cx="168.3" cy="621.6" r="0.7"/><circle cx="195.7" cy="670.6" r="0.7"/><circle cx="169.5" cy="647.4" r="0.7"/><circle cx="219.5" cy="686.6" r="0.7"/><circle cx="135.8" cy="667.7" r="0.7"/><circle cx="152.7" cy="683.4" r="0.85"/><circle cx="200.9" cy="627.9" r="0.7"/><circle cx="107.4" cy="617.8" r="0.85"/><circle cx="184.3" cy="672.9" r="0.7"/><circle cx="174.5" cy="619.7" r="0.7"/><circle cx="135.6" cy="644.4" r="0.7"/><circle cx="232.9" cy="667.5" r="0.7"/><circle cx="124.0" cy="692.9" r="0.7"/><circle cx="216.3" cy="695.3" r="0.7"/><circle cx="144.7" cy="648.2" r="0.7"/><circle cx="169.8" cy="671.2" r="0.7"/><circle cx="151.7" cy="673.3" r="0.7"/><circle cx="152.8" cy="606.9" r="0.85"/><circle cx="120.9" cy="633.5" r="0.7"/><circle cx="149.5" cy="655.0" r="0.7"/><circle cx="192.2" cy="691.1" r="1.0"/><circle cx="210.3" cy="666.1" r="1.0"/><circle cx="117.0" cy="612.6" r="0.7"/><circle cx="203.6" cy="639.6" r="0.7"/><circle cx="187.6" cy="662.9" r="0.7"/><circle cx="231.1" cy="663.8" r="0.7"/><circle cx="101.5" cy="639.6" r="0.85"/><circle cx="168.8" cy="617.5" r="0.7"/><circle cx="146.1" cy="673.2" r="0.7"/><circle cx="167.6" cy="608.5" r="0.7"/><circle cx="193.9" cy="686.4" r="0.7"/><circle cx="123.0" cy="650.2" r="0.7"/><circle cx="107.7" cy="594.7" r="0.7"/><circle cx="119.5" cy="680.6" r="0.7"/><circle cx="204.9" cy="660.5" r="0.7"/><circle cx="115.6" cy="686.5" r="0.7"/><circle cx="222.0" cy="653.3" r="0.7"/><circle cx="95.8" cy="591.6" r="0.7"/><circle cx="113.2" cy="677.7" r="0.85"/><circle cx="162.2" cy="633.1" r="0.7"/><circle cx="215.0" cy="692.4" r="0.7"/><circle cx="218.0" cy="612.3" r="0.7"/><circle cx="126.2" cy="618.7" r="0.7"/><circle cx="197.2" cy="615.8" r="0.7"/><circle cx="133.2" cy="613.1" r="0.7"/><circle cx="227.6" cy="669.2" r="0.7"/><circle cx="173.2" cy="677.4" r="0.7"/><circle cx="199.3" cy="695.9" r="1.0"/><circle cx="145.0" cy="604.3" r="0.85"/><circle cx="99.8" cy="599.0" r="0.7"/><circle cx="166.5" cy="653.7" r="0.7"/><circle cx="204.8" cy="626.4" r="0.7"/><circle cx="194.6" cy="656.7" r="0.85"/><circle cx="231.0" cy="623.5" r="0.7"/><circle cx="149.7" cy="602.0" r="0.7"/><circle cx="169.1" cy="619.3" r="0.7"/><circle cx="179.2" cy="601.3" r="0.7"/><circle cx="219.8" cy="634.2" r="0.7"/><circle cx="149.0" cy="693.1" r="0.7"/><circle cx="108.6" cy="693.1" r="0.85"/><circle cx="196.6" cy="681.3" r="0.85"/><circle cx="102.0" cy="628.5" r="0.7"/><circle cx="138.8" cy="654.4" r="0.7"/><circle cx="195.3" cy="650.1" r="0.7"/><circle cx="227.0" cy="659.5" r="0.7"/><circle cx="200.1" cy="640.1" r="0.7"/><circle cx="230.5" cy="678.2" r="0.7"/><circle cx="141.1" cy="680.4" r="0.7"/><circle cx="129.9" cy="609.3" r="0.7"/><circle cx="196.1" cy="619.2" r="0.7"/><circle cx="102.8" cy="653.2" r="0.7"/><circle cx="131.6" cy="644.9" r="0.85"/><circle cx="232.8" cy="681.8" r="0.7"/><circle cx="163.1" cy="693.6" r="0.7"/><circle cx="214.2" cy="674.7" r="0.85"/><circle cx="198.6" cy="595.7" r="0.7"/><circle cx="185.5" cy="620.2" r="0.7"/><circle cx="134.9" cy="650.0" r="1.0"/><circle cx="144.4" cy="610.9" r="0.7"/><circle cx="162.4" cy="619.6" r="0.7"/><circle cx="179.4" cy="693.0" r="0.7"/><circle cx="141.0" cy="633.0" r="0.7"/><circle cx="114.7" cy="659.5" r="0.7"/><circle cx="217.4" cy="608.6" r="0.85"/><circle cx="123.2" cy="633.9" r="0.7"/><circle cx="166.1" cy="593.7" r="0.7"/><circle cx="161.2" cy="679.0" r="0.85"/><circle cx="154.9" cy="682.9" r="0.7"/><circle cx="211.0" cy="697.0" r="0.7"/><circle cx="209.0" cy="676.6" r="0.7"/><circle cx="118.8" cy="695.7" r="0.85"/><circle cx="232.9" cy="638.6" r="1.0"/><circle cx="158.9" cy="668.5" r="0.7"/><circle cx="138.5" cy="668.0" r="0.7"/><circle cx="140.6" cy="639.7" r="0.7"/><circle cx="163.3" cy="606.6" r="0.7"/><circle cx="164.2" cy="674.6" r="0.7"/><circle cx="172.4" cy="644.5" r="0.7"/><circle cx="103.7" cy="688.8" r="0.7"/><circle cx="204.8" cy="699.4" r="0.7"/><circle cx="223.3" cy="655.8" r="0.7"/><circle cx="187.8" cy="697.7" r="0.7"/><circle cx="129.3" cy="681.3" r="0.7"/><circle cx="222.3" cy="648.4" r="0.7"/><circle cx="139.2" cy="645.2" r="0.7"/><circle cx="173.9" cy="613.9" r="0.85"/><circle cx="197.6" cy="690.2" r="0.85"/><circle cx="176.8" cy="694.7" r="0.7"/><circle cx="175.6" cy="636.0" r="0.7"/><circle cx="190.3" cy="684.4" r="0.85"/><circle cx="142.2" cy="670.0" r="0.7"/><circle cx="106.5" cy="601.2" r="0.7"/><circle cx="119.4" cy="605.8" r="0.7"/><circle cx="195.1" cy="692.3" r="0.7"/><circle cx="180.3" cy="699.9" r="0.7"/><circle cx="188.0" cy="649.0" r="0.7"/><circle cx="185.2" cy="616.3" r="0.7"/><circle cx="167.1" cy="624.0" r="0.7"/><circle cx="211.5" cy="608.1" r="0.7"/><circle cx="201.8" cy="649.0" r="0.7"/><circle cx="173.2" cy="630.7" r="0.7"/><circle cx="152.5" cy="650.9" r="0.85"/><circle cx="182.5" cy="629.7" r="0.7"/><circle cx="197.5" cy="699.3" r="0.7"/><circle cx="184.8" cy="681.4" r="0.7"/><circle cx="120.7" cy="693.4" r="0.7"/><circle cx="140.8" cy="664.8" r="0.7"/><circle cx="176.9" cy="620.4" r="0.7"/><circle cx="115.6" cy="622.9" r="0.7"/><circle cx="149.8" cy="627.2" r="0.7"/><circle cx="184.6" cy="698.9" r="0.7"/><circle cx="128.1" cy="660.4" r="0.7"/><circle cx="219.9" cy="679.9" r="0.7"/><circle cx="179.5" cy="647.4" r="0.7"/><circle cx="172.8" cy="663.8" r="0.7"/></g>
<rect x="96" y="592" width="135.5" height="107" fill="#fff" filter="url(#lt)" opacity="0.15"/>
<path d="M192,592 L232,592 L232,606 Q222,601 212,600 Q200,598 192,592Z" fill="#fdfafb" opacity="0.85"/>
<path d="M166,618 L172,611.5 M180.8,602 L182.5,596 M186,608.5 L191,609.5 M181,611 L183.5,615" fill="none" stroke="#c860a8" stroke-width="1.5"/>
<circle cx="182.5" cy="608" r="3.8" fill="#d070b0"/>
<ellipse cx="185" cy="607.4" rx="1.8" ry="1.6" fill="#fbeef6"/>
<ellipse cx="174.6" cy="606.6" rx="5" ry="4" transform="rotate(40 174.6 606.6)" fill="#fdf6fa" stroke="#a8307e" stroke-width="1.4"/>
<path d="M177,631.5 Q185,630 191.5,630.5 Q197,631 200,633 Q203,636 206,637 Q212,636.5 218,633.5 Q225,629 230,624 L231.5,628 Q225,635 218,640 Q211,644.5 206,646 Q203,650 199,651 Q194,650.5 190,648.5 Q183,646 177,645.5Z" fill="#f0d4e8" stroke="#c87ab4" stroke-width="0.9"/>
<path d="M205.8,638 Q216,634 224,628 Q229,623.5 231,619" fill="none" stroke="#c24c9c" stroke-width="2.4"/>
<path d="M222,615.5 Q228,619 231,616" fill="none" stroke="#c24c9c" stroke-width="1.6"/>
<ellipse cx="222.8" cy="612.8" rx="5" ry="5.6" fill="#fdf6fa" stroke="#a0307e" stroke-width="1.5"/>
<path d="M140,650 Q142,645.5 150,645.5 L188,646 L188,650 L140,651Z" fill="#e6bedc"/>
<path d="M142.5,644.5 Q142.5,634 160,633 Q177,632 180.5,637.5 Q181,645.5 176,646 L146,646.5 Q142.5,646.5 142.5,644.5Z" fill="#f2cfe6" stroke="#d89ac8" stroke-width="1"/>
<path d="M144.8,643.8 Q144.8,635.2 160,634.2 Q175.5,633.5 178.4,638.6 Q178.8,643.5 176,643.6 Z" fill="#b02a7c"/>
<ellipse cx="197.4" cy="645.7" rx="3.6" ry="3.2" fill="#922a78"/>
<path d="M143,648.5 Q154,647.5 165.5,648.5 L166,657.5 L159.3,664.2 L153.9,671 L149.8,679 L144.5,680.4 Q142.5,665 143,648.5Z" fill="url(#aggrad)"/>
<path d="M143,648.5 Q154,647.5 165.5,648.5 L166,657.5 L159.3,664.2 L153.9,671 L149.8,679 L144.5,680.4 Q142.5,665 143,648.5Z" fill="#fff" filter="url(#ag)" opacity="0.35"/>
<circle cx="146.5" cy="657" r="0.8" fill="#fff"/><circle cx="147.5" cy="661" r="0.8" fill="#fff"/><circle cx="147" cy="665" r="0.8" fill="#fff"/>
<path d="M165.5,651 Q166,648.5 172,648.8 L182,649 Q187,650 186.8,656 Q186.5,664 182,667.5 Q177,669 172,667 Q166,663 165.5,651Z" fill="#fffefc" stroke="#cf7ab6" stroke-width="1.8"/>
<path d="M96,694.5 Q112,694 126,690 Q137,686 143,679" fill="none" stroke="#c878b0" stroke-width="2.6"/>
<path d="M98.7,691.8 L104.1,684.4 L113.5,673.6 L122.9,662.9 L128.3,658.8 L135,654.1 L137.7,654.8 L141.8,666.9 L142.4,676.3 L139.1,680.4 L132.3,685.8 L122.9,689.8 L112.2,691.8 L104.1,692.8Z" fill="#fffdf6" stroke="#c886b8" stroke-width="1.4"/>
<path d="M124.5,662 Q130,659 134,657.5 M135.5,656.5 Q136.5,666 136.4,676 L139,680" fill="none" stroke="#c890c0" stroke-width="0.8"/>
<path d="M96,686 Q108,674 118,664 Q126,656 134,651.5" fill="none" stroke="#cf8cbe" stroke-width="1.2"/>
<path d="M226,676 Q219,684 223,699" fill="none" stroke="#c870b0" stroke-width="1.4"/>
<path d="M150,699 Q160,690 176,692" fill="none" stroke="#d090c0" stroke-width="1.4"/>
<line x1="113.3" y1="633.8" x2="141" y2="649.5" stroke="#000" stroke-width="1.7"/>
<path d="M150.6,655.3 L137.1,652.6 L141.2,645.2Z" fill="#000"/>
</g>
<g clip-path="url(#cv)">
<rect x="277" y="592" width="136.2" height="107" fill="#d03c92"/>
<rect x="277" y="592" width="136.2" height="107" fill="#fff" filter="url(#pt)"/>
<rect x="277" y="592" width="136.2" height="107" fill="#fff" filter="url(#pd)"/>
<path d="M358,604 L364,602 L368.4,606 L370,611.5 L377.4,611.5 L387.9,614.4 L395.3,620.4 L396.8,629.4 L398.3,639.9 L396.8,651.8 L389.4,659.3 L383.4,666.8 L378.9,672.8 L377.4,681.7 L374.4,690.7 L369.9,696.7 L365.4,692.2 L366.9,678.8 L368.4,666.8 L366.9,654.8 L365.4,642.9 L362.4,632.4 L359.4,624.9 L360,617 L357,610Z" fill="#fff" filter="url(#aggblur)" opacity="0.8"/>
<path d="M358,604 L364,602 L368.4,606 L370,611.5 L377.4,611.5 L387.9,614.4 L395.3,620.4 L396.8,629.4 L398.3,639.9 L396.8,651.8 L389.4,659.3 L383.4,666.8 L378.9,672.8 L377.4,681.7 L374.4,690.7 L369.9,696.7 L365.4,692.2 L366.9,678.8 L368.4,666.8 L366.9,654.8 L365.4,642.9 L362.4,632.4 L359.4,624.9 L360,617 L357,610Z" fill="#372a74" filter="url(#soft)"/>
<path d="M358,604 L364,602 L368.4,606 L370,611.5 L377.4,611.5 L387.9,614.4 L395.3,620.4 L396.8,629.4 L398.3,639.9 L396.8,651.8 L389.4,659.3 L383.4,666.8 L378.9,672.8 L377.4,681.7 L374.4,690.7 L369.9,696.7 L365.4,692.2 L366.9,678.8 L368.4,666.8 L366.9,654.8 L365.4,642.9 L362.4,632.4 L359.4,624.9 L360,617 L357,610Z" fill="#fff" filter="url(#ag)" opacity="0.5"/>
<path d="M358,604 L364,602 L368.4,606 L370,611.5 L377.4,611.5 L387.9,614.4 L395.3,620.4 L396.8,629.4 L398.3,639.9 L396.8,651.8 L389.4,659.3 L383.4,666.8 L378.9,672.8 L377.4,681.7 L374.4,690.7 L369.9,696.7 L365.4,692.2 L366.9,678.8 L368.4,666.8 L366.9,654.8 L365.4,642.9 L362.4,632.4 L359.4,624.9 L360,617 L357,610Z" fill="#fff" filter="url(#ag2)" opacity="0.5"/>
<path d="M356,606 Q360,601 365,602 Q370,606 369,612 L360,614Z" fill="#8a4aa0" opacity="0.6" filter="url(#soft)"/>
<path d="M282,674 Q283,667 289,666.5 Q295,667 295.5,672 Q295,676 296,680 Q291,677.5 286,678 Q282,677.5 282,674Z" fill="#fdf6fb"/>
<path d="M379.2,625.5 L380.6,625.2 L386,639.5 L384.6,640.2Z" fill="#f4dcf0"/>
<path d="M370,666.5 L371.6,666 L373.8,674 L372.4,674.5Z" fill="#f0d0ea"/>
<path d="M367,692 Q371,690 376,687.5 L376.5,688.5 Q372,691.5 367.5,693Z" fill="#f0d0ea"/>
<ellipse cx="402" cy="641.3" rx="3.6" ry="2.8" fill="#f04a9c"/>
<line x1="330.8" y1="611.4" x2="357" y2="627" stroke="#000" stroke-width="1.7"/>
<path d="M366.3,632.4 L354.2,629.2 L358.3,623.5Z" fill="#000"/>
</g>
</svg></body></html>
